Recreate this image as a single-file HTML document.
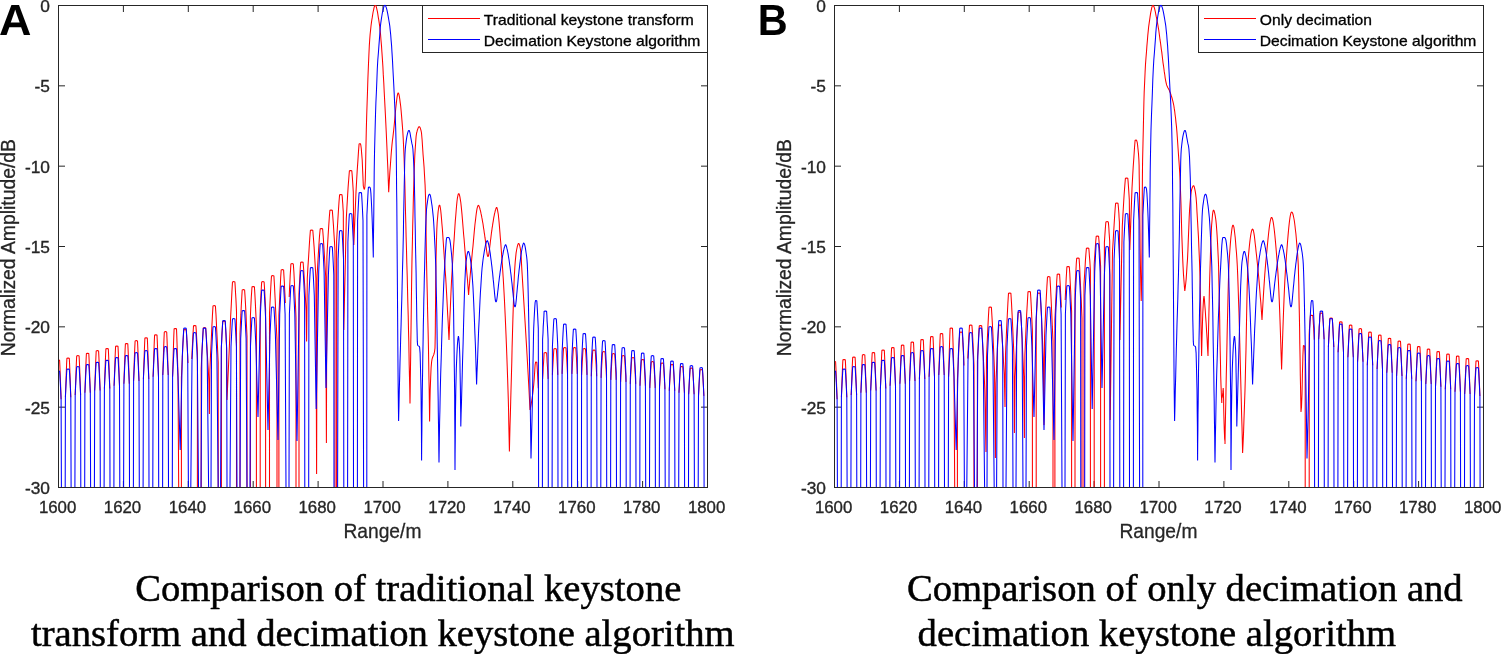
<!DOCTYPE html>
<html lang="en">
<head>
<meta charset="utf-8">
<title>Comparison of keystone algorithms</title>
<style>
html,body{margin:0;padding:0;background:#fff;}
body{width:1501px;height:654px;overflow:hidden;}
svg{display:block;}
.t{font-family:"Liberation Sans",sans-serif;font-size:17.4px;fill:#262626;stroke:#262626;stroke-width:0.35px;}
.l{font-family:"Liberation Sans",sans-serif;font-size:20.9px;fill:#262626;stroke:#262626;stroke-width:0.3px;}
.lg{font-family:"Liberation Sans",sans-serif;font-size:14.4px;fill:#000;stroke:#000;stroke-width:0.3px;}
.cap{font-family:"Liberation Serif",serif;font-size:38.7px;fill:#000;stroke:#000;stroke-width:0.5px;}
.pl{font-family:"Liberation Sans",sans-serif;font-size:43.6px;font-weight:bold;fill:#000;text-rendering:geometricPrecision;}
.ax{stroke:#262626;stroke-width:1;fill:none;shape-rendering:crispEdges;}
.r{stroke:#ff0000;fill:none;stroke-width:1.05;stroke-linejoin:bevel;}
.b{stroke:#0000ff;fill:none;stroke-width:1.05;stroke-linejoin:bevel;}
</style>
</head>
<body>
<svg width="1501" height="654" viewBox="0 0 1501 654">
<rect x="0" y="0" width="1501" height="654" fill="#fff"/>
<g id="plotA">
<clipPath id="clip0"><rect x="59.0" y="4.5" width="648.0" height="482.5"/></clipPath>
<rect class="ax" x="58.5" y="5.5" width="649.0" height="482.0"/>
<path d="M123.40 487.5v-6.5M123.40 5.5v6.5M188.30 487.5v-6.5M188.30 5.5v6.5M253.20 487.5v-6.5M253.20 5.5v6.5M318.10 487.5v-6.5M318.10 5.5v6.5M383.00 487.5v-6.5M383.00 5.5v6.5M447.90 487.5v-6.5M447.90 5.5v6.5M512.80 487.5v-6.5M512.80 5.5v6.5M577.70 487.5v-6.5M577.70 5.5v6.5M642.60 487.5v-6.5M642.60 5.5v6.5M58.5 85.83h6.5M707.5 85.83h-6.5M58.5 166.17h6.5M707.5 166.17h-6.5M58.5 246.50h6.5M707.5 246.50h-6.5M58.5 326.83h6.5M707.5 326.83h-6.5M58.5 407.17h6.5M707.5 407.17h-6.5" stroke="#262626" stroke-width="1" fill="none"/>
<g clip-path="url(#clip0)">
<path class="r" d="M55.7 399.3L56.0 390.5L56.3 382.0L56.6 373.9L56.9 366.4L57.2 360.3L58.4 360.0L59.6 360.3L59.9 366.4L60.2 373.9L60.5 382.0L60.8 390.5L61.1 399.3M65.4 397.3L65.7 388.5L66.0 380.0L66.3 371.9L66.6 364.4L66.9 358.3L68.1 358.0L69.3 358.3L69.6 364.4L69.9 371.9L70.2 380.0L70.5 388.5L70.8 397.3M75.2 394.9L75.5 386.1L75.8 377.6L76.1 369.5L76.4 362.0L76.7 355.9L77.9 355.6L79.1 355.9L79.4 362.0L79.7 369.5L80.0 377.6L80.3 386.1L80.6 394.9M84.9 392.7L85.2 383.8L85.5 375.3L85.8 367.2L86.1 359.7L86.4 353.5L87.6 353.2L88.8 353.5L89.1 359.7L89.4 367.2L89.7 375.3L90.0 383.8L90.3 392.7M94.7 390.5L95.0 381.5L95.3 372.9L95.6 364.7L95.9 357.1L96.2 350.9L97.4 350.6L98.6 350.9L98.9 357.1L99.2 364.7L99.5 372.9L99.8 381.5L100.1 390.5M104.4 388.5L104.7 379.5L105.0 370.8L105.3 362.6L105.6 355.0L105.9 348.7L107.1 348.4L108.3 348.7L108.6 355.0L108.9 362.6L109.2 370.8L109.5 379.5L109.8 388.5M114.1 385.7L114.4 376.8L114.7 368.2L115.0 360.0L115.3 352.5L115.6 346.3L116.8 346.0L118.0 346.3L118.3 352.5L118.6 360.0L118.9 368.2L119.2 376.8L119.5 385.7M123.9 383.7L124.2 374.6L124.5 365.9L124.8 357.6L125.1 350.0L125.4 343.7L126.6 343.4L127.8 343.7L128.1 350.0L128.4 357.6L128.7 365.9L129.0 374.6L129.3 383.7M133.6 380.9L133.9 371.8L134.2 363.1L134.5 354.8L134.8 347.2L135.1 340.9L136.3 340.6L137.5 340.9L137.8 347.2L138.1 354.8L138.4 363.1L138.7 371.8L139.0 380.9M143.4 378.9L143.7 369.7L144.0 360.8L144.3 352.3L144.6 344.5L144.9 338.1L146.1 337.8L147.3 338.1L147.6 344.5L147.9 352.3L148.2 360.8L148.5 369.7L148.8 378.9M153.1 376.7L153.4 367.3L153.7 358.2L154.0 349.6L154.3 341.6L154.6 335.1L155.8 334.8L157.0 335.1L157.3 341.6L157.6 349.6L157.9 358.2L158.2 367.3L158.5 376.7M162.8 374.9L163.1 365.2L163.4 355.8L163.7 346.9L164.0 338.7L164.3 331.9L165.5 331.6L166.7 331.9L167.0 338.7L167.3 346.9L167.6 355.8L167.9 365.2L168.2 374.9M172.6 376.7L172.9 365.8L173.2 355.4L173.5 345.4L173.8 336.2L174.1 328.7L175.3 328.4L176.5 328.7L176.8 336.2L177.1 345.4L177.4 355.4L177.7 365.8L178.0 376.7L178.7 487.5L178.7 530.0L181.4 530.0L181.4 487.5L181.4 377.6L181.9 366.8L182.4 356.4L182.8 346.5L183.3 337.3L183.8 329.8L185.0 329.5L186.2 329.8L186.6 335.0L186.9 341.4L187.3 348.2L187.6 355.5L188.0 363.0M191.8 358.9L192.1 351.4L192.5 344.1L192.8 337.3L193.2 330.9L193.5 325.7L194.7 325.4L195.9 325.7L196.2 329.9L196.5 335.0L196.8 340.6L197.1 346.4L197.4 352.5L197.4 487.5L197.4 530.0L201.2 530.0L201.2 487.5L201.2 368.5L201.6 359.3L202.0 350.4L202.5 342.0L202.9 334.3L203.3 327.9L204.5 327.6L205.7 327.9L206.3 336.0L206.9 346.0L207.5 356.7L208.2 368.0L208.8 379.7L209.4 414.0L209.9 369.9L210.5 355.4L211.2 341.5L211.8 328.2L212.4 316.0L213.0 305.9L214.2 305.6L215.4 305.9L216.0 314.8L216.5 325.6L217.1 337.2L217.6 349.5L218.2 362.3L218.2 487.5L218.2 530.0L221.4 530.0L221.4 487.5L221.4 346.2L221.7 340.5L221.9 335.1L222.2 330.0L222.5 325.2L222.8 321.3L224.0 321.0L225.2 321.3L225.4 325.1L225.7 329.8L226.0 334.8L226.2 340.1L226.5 345.6L227.0 400.0L229.4 345.9L230.0 331.4L230.6 317.5L231.3 304.2L231.9 292.0L232.5 281.9L233.7 281.6L234.9 281.9L235.2 286.6L235.5 292.3L235.9 298.5L236.2 305.0L236.5 311.8L236.5 487.5L236.5 530.0L240.0 530.0L240.0 487.5L240.0 334.0L240.4 324.0L240.9 314.4L241.3 305.3L241.8 296.8L242.2 289.9L243.4 289.6L244.6 289.9L245.1 297.2L245.6 306.2L246.1 315.9L246.5 326.1L247.0 336.6L247.0 487.5L247.0 530.0L250.4 530.0L250.4 487.5L250.4 316.2L250.7 309.5L251.0 303.1L251.3 297.0L251.7 291.3L252.0 286.7L253.2 286.4L254.4 286.7L254.8 292.8L255.2 300.3L255.6 308.4L256.0 317.0L256.4 325.8L256.4 487.5L256.4 530.0L260.2 530.0L260.2 487.5L260.2 310.1L260.5 303.7L260.8 297.6L261.1 291.7L261.4 286.3L261.7 281.9L262.9 281.6L264.1 281.9L264.4 286.2L264.7 291.4L265.0 297.1L265.3 303.1L265.6 309.3L265.6 487.5L265.6 530.0L269.5 530.0L269.5 487.5L269.5 313.6L269.9 305.1L270.3 296.9L270.7 289.1L271.1 281.8L271.5 275.9L272.7 275.6L273.9 275.9L274.5 286.0L275.1 298.2L275.7 311.5L276.3 325.4L277.0 339.9L277.0 487.5L277.0 530.0L278.9 530.0L278.9 487.5L278.9 315.2L279.4 305.0L279.8 295.1L280.3 285.7L280.7 277.0L281.2 269.9L282.4 269.6L283.6 269.9L283.9 275.1L284.3 281.5L284.6 288.3L285.0 295.6L285.3 303.1M289.2 297.1L289.5 289.6L289.9 282.3L290.2 275.5L290.6 269.1L290.9 263.9L292.1 263.6L293.3 263.9L293.9 272.3L294.4 282.6L294.9 293.8L295.5 305.5L296.0 317.7L296.0 487.5L296.0 530.0L299.0 530.0L299.0 487.5L299.0 293.8L299.3 286.7L299.7 279.8L300.0 273.3L300.3 267.3L300.7 262.3L301.9 262.0L303.1 262.3L303.7 269.8L304.3 279.0L304.9 288.8L305.5 299.3L306.1 310.1L306.6 341.6L307.3 278.3L307.9 267.4L308.6 257.0L309.2 247.0L309.8 237.8L310.4 230.3L311.6 230.0L312.8 230.3L313.4 237.8L314.1 247.0L314.7 257.0L315.3 267.4L315.9 278.3L316.6 474.0L317.1 275.9L317.7 265.2L318.3 254.9L318.9 245.1L319.5 236.1L320.2 228.7L321.4 228.4L322.6 228.7L323.2 236.2L323.8 245.4L324.4 255.4L325.0 265.8L325.7 276.7L326.4 443.0L326.9 256.4L327.5 246.0L328.1 235.9L328.7 226.4L329.3 217.5L329.9 210.3L331.1 210.0L332.3 210.3L332.8 216.8L333.4 224.6L333.9 233.1L334.5 242.1L335.0 251.4L335.0 487.5L335.0 530.0L336.6 530.0L336.6 487.5L336.6 241.5L337.2 230.9L337.8 220.7L338.4 211.0L339.0 202.0L339.6 194.7L340.8 194.4L342.0 194.7L342.3 197.4L342.5 200.7L342.8 204.3L343.0 208.0L343.3 211.9L343.8 330.0L346.3 218.7L346.9 207.8L347.5 197.4L348.1 187.4L348.8 178.2L349.4 170.7L350.6 170.4L351.8 170.7L352.1 174.0L352.4 178.1L352.7 182.5L353.0 187.2L353.3 192.0L353.8 245.0L356.0 191.9L356.6 181.0L357.2 170.6L357.9 160.6L358.5 151.4L359.1 143.9L360.3 143.6L360.8 145.0L361.3 148.7L361.7 153.9L362.2 160.0L362.8 174.0L363.3 186.0L363.9 188.5L364.4 189.5L364.9 186.8L365.3 180.0L365.6 166.8L365.9 149.0L366.3 130.0L366.7 115.6L367.1 103.2L367.5 91.7L367.9 78.6L368.4 65.9L368.9 54.6L369.3 45.9L369.7 39.8L370.1 34.5L370.6 29.9L371.0 26.0L371.4 22.9L371.8 20.0L372.3 17.2L372.7 14.5L373.1 12.0L373.6 9.8L374.0 7.9L374.4 6.5L374.9 5.6L375.3 5.3L375.7 5.6L376.2 6.6L376.6 8.0L377.0 9.9L377.5 12.1L377.9 14.6L378.3 17.3L378.8 20.1L379.2 22.9L379.7 26.3L380.1 30.4L380.6 35.1L381.0 40.3L381.5 45.9L381.9 52.0L382.4 59.1L382.9 66.8L383.3 74.9L383.8 83.3L384.2 91.7L384.6 99.2L385.0 106.9L385.4 114.8L385.8 122.9L386.2 131.3L386.6 140.0L387.0 149.0L387.4 159.0L387.9 169.7L388.3 180.8L388.7 192.2L389.1 184.8L389.5 177.8L389.9 171.2L390.4 164.9L390.8 159.2L391.2 153.8L391.6 149.0L392.0 144.6L392.4 140.7L392.9 137.1L393.3 133.6L393.7 130.0L394.1 126.2L394.5 122.0L394.9 117.6L395.3 113.1L395.7 108.7L396.2 104.5L396.6 100.8L397.0 97.6L397.4 95.1L397.8 93.5L398.2 92.9L398.6 93.3L399.0 94.6L399.4 96.6L399.8 99.3L400.2 102.6L400.7 106.3L401.1 110.5L401.5 115.1L401.9 119.9L402.3 124.9L402.7 130.0L403.2 138.1L403.7 149.0L404.1 158.2L404.4 169.1L404.8 181.3L405.1 194.5L405.4 208.3L405.8 222.4L406.1 236.4L406.5 250.0L406.8 262.7L407.2 275.5L407.5 288.5L407.8 301.8L408.2 315.6L408.5 330.0L408.8 341.3L409.0 353.0L409.2 365.1L409.5 377.6L409.8 390.3L410.0 403.4L410.2 391.0L410.3 378.7L410.5 366.4L410.7 354.2L410.8 342.1L411.0 330.0L411.2 315.0L411.4 299.3L411.6 284.2L411.8 270.4L412.0 259.0L412.4 241.9L412.7 225.9L413.1 210.9L413.4 197.1L413.8 184.6L414.1 173.5L414.5 163.7L414.8 155.6L415.2 149.0L415.7 141.9L416.1 136.4L416.6 133.0L417.1 131.2L417.5 129.7L418.0 128.4L418.4 127.4L418.9 126.8L419.3 126.6L419.7 126.9L420.2 127.8L420.6 129.1L421.1 130.9L421.5 133.0L422.1 139.7L422.7 149.0L423.1 155.0L423.6 161.1L424.1 167.6L424.5 175.0L425.1 185.2L425.6 200.0L425.8 208.6L426.0 220.8L426.1 234.7L426.3 248.4L426.5 260.0L426.8 274.7L427.1 287.6L427.4 299.5L427.6 311.0L427.9 322.8L428.2 335.6L428.5 350.0L428.7 362.5L428.9 376.2L429.2 390.7L429.4 405.9L429.6 421.6L429.9 403.4L430.2 390.0L430.7 377.1L431.1 367.6L431.6 362.0L432.0 359.4L432.5 357.7L432.9 356.6L433.3 355.8L433.7 354.9L434.1 353.5L434.6 351.3L435.0 348.0L435.1 343.0L435.3 331.9L435.4 317.0L435.6 300.3L435.7 283.8L435.9 269.7L436.0 260.0L436.4 242.9L436.8 229.9L437.2 222.0L437.7 216.5L438.1 211.8L438.6 208.2L439.0 205.8L439.5 205.0L439.9 205.6L440.3 207.5L440.7 210.3L441.1 214.1L441.5 218.6L441.9 223.7L442.4 229.2L442.8 235.1L443.2 241.2L443.6 247.3L444.0 253.3L444.4 259.0L444.8 264.9L445.2 271.1L445.7 277.6L446.1 284.5L446.5 291.7L446.9 299.1L447.3 306.8L447.7 314.8L448.2 323.0L448.6 331.4L449.0 340.0L449.4 329.4L449.8 319.0L450.3 309.0L450.7 299.3L451.1 290.0L451.5 281.3L452.0 273.2L452.4 265.7L452.8 259.0L453.2 252.6L453.6 246.1L454.1 239.6L454.5 233.2L454.9 226.9L455.3 220.9L455.8 215.2L456.2 210.0L456.6 205.4L457.0 201.3L457.4 198.1L457.9 195.6L458.3 194.0L458.7 193.5L459.1 193.9L459.5 195.1L459.9 196.9L460.3 199.4L460.8 202.5L461.2 206.1L461.6 210.1L462.0 214.4L462.4 219.1L462.8 224.0L463.2 229.0L463.6 234.2L464.1 239.3L464.5 244.5L464.9 249.5L465.3 254.4L465.7 259.0L466.1 263.6L466.5 268.5L466.9 273.5L467.4 278.7L467.8 284.1L468.2 289.5L468.6 295.0L469.0 289.4L469.5 283.9L469.9 278.5L470.4 273.2L470.8 268.2L471.3 263.5L471.7 259.0L472.1 254.8L472.5 250.5L473.0 246.0L473.4 241.4L473.8 236.9L474.2 232.4L474.6 228.1L475.0 224.0L475.5 220.1L475.9 216.5L476.3 213.3L476.7 210.6L477.1 208.3L477.6 206.6L478.0 205.6L478.4 205.2L478.7 205.6L479.1 206.3L479.4 207.2L479.8 208.3L480.1 209.5L480.5 210.9L480.8 212.4L481.1 213.9L481.5 215.6L481.8 217.4L482.2 219.3L482.5 221.3L482.9 223.3L483.2 225.4L483.5 227.6L483.9 229.9L484.2 232.3L484.6 234.7L484.9 237.2L485.3 239.7L485.6 242.4L485.9 245.0L486.3 247.8L486.6 250.6L487.0 253.2L487.3 255.1L487.7 256.2L488.0 256.6L488.0 256.6L488.3 256.2L488.7 255.0L489.0 252.9L489.4 250.1L489.7 247.1L490.1 244.2L490.4 241.3L490.8 238.5L491.1 235.8L491.4 233.2L491.8 230.7L492.1 228.2L492.5 225.9L492.8 223.6L493.2 221.4L493.5 219.4L493.8 217.4L494.2 215.6L494.5 213.9L494.9 212.4L495.2 211.0L495.6 209.7L495.9 208.7L496.3 207.8L496.6 207.4L497.0 207.9L497.4 209.3L497.8 211.6L498.3 214.5L498.7 218.2L499.1 222.4L499.5 227.1L499.9 232.1L500.3 237.5L500.8 243.0L501.2 248.7L501.6 254.4L502.0 260.0L502.4 265.5L502.8 271.5L503.2 277.8L503.6 284.5L504.0 291.7L504.4 299.3L504.8 307.4L505.2 316.0L505.6 325.0L506.0 334.5L506.4 344.5L506.8 355.1L507.2 366.2L507.6 377.8L508.0 390.0L508.3 399.8L508.6 411.4L508.8 424.3L509.1 437.8L509.4 451.4L509.7 438.6L510.0 426.0L510.4 413.6L510.7 401.6L511.0 390.0L511.4 376.2L511.8 361.8L512.1 347.3L512.5 332.9L512.9 319.0L513.3 305.9L513.7 293.9L514.0 283.4L514.4 274.6L514.8 268.0L515.2 262.0L515.7 256.9L516.1 252.9L516.6 250.0L517.0 248.0L517.4 246.2L517.8 244.8L518.2 243.8L518.6 243.4L519.0 243.7L519.4 244.6L519.8 246.0L520.2 247.8L520.6 250.0L521.2 257.9L521.8 269.0L522.2 275.5L522.6 281.9L523.0 288.3L523.4 294.8L523.8 301.2L524.2 307.7L524.6 314.2L525.0 320.7L525.4 327.3L525.8 333.9L526.2 340.6L526.6 347.3L527.0 354.2L527.4 361.1L527.8 368.2L528.2 375.3L528.6 382.6L529.0 390.0L529.5 399.8L530.0 410.0L530.4 408.4L530.8 406.5L531.2 404.2L531.6 401.5L532.1 398.6L532.5 395.5L532.9 392.1L533.3 388.6L533.7 385.0L534.2 379.0L534.7 371.4L535.1 364.8L535.6 362.0L536.8 362.3L537.1 366.4L537.4 371.4L537.7 376.7L538.0 382.4L538.3 388.3M542.6 378.9L543.0 373.0L543.2 367.3L543.6 362.0L543.9 357.0L544.1 352.9L545.4 352.6L546.6 352.9L546.9 357.0L547.1 362.0L547.5 367.3L547.8 373.0L548.1 378.9M552.4 374.9L552.7 369.0L553.0 363.3L553.3 358.0L553.6 353.0L553.9 348.9L555.1 348.6L556.3 348.9L556.6 353.0L556.9 358.0L557.2 363.3L557.5 369.0L557.8 374.9M562.1 373.9L562.4 368.0L562.7 362.3L563.0 357.0L563.3 352.0L563.6 347.9L564.8 347.6L566.0 347.9L566.3 352.0L566.6 357.0L566.9 362.3L567.2 368.0L567.5 373.9M571.9 373.9L572.2 368.0L572.5 362.3L572.8 357.0L573.1 352.0L573.4 347.9L574.6 347.6L575.8 347.9L576.1 352.0L576.4 357.0L576.7 362.3L577.0 368.0L577.3 373.9M581.6 374.9L581.9 369.0L582.2 363.3L582.5 358.0L582.8 353.0L583.1 348.9L584.3 348.6L585.5 348.9L585.8 353.0L586.1 358.0L586.4 363.3L586.7 369.0L587.0 374.9M591.3 376.3L591.6 370.4L591.9 364.7L592.2 359.4L592.5 354.4L592.8 350.3L594.0 350.0L595.2 350.3L595.5 354.4L595.8 359.4L596.1 364.7L596.4 370.4L596.7 376.3M601.1 377.9L601.4 372.0L601.7 366.3L602.0 361.0L602.3 356.0L602.6 351.9L603.8 351.6L605.0 351.9L605.3 356.0L605.6 361.0L605.9 366.3L606.2 372.0L606.5 377.9M610.8 379.9L611.1 374.0L611.4 368.3L611.7 363.0L612.0 358.0L612.3 353.9L613.5 353.6L614.7 353.9L615.0 358.0L615.3 363.0L615.6 368.3L615.9 374.0L616.2 379.9M620.6 381.9L620.9 376.0L621.2 370.3L621.5 365.0L621.8 360.0L622.1 355.9L623.3 355.6L624.5 355.9L624.8 360.0L625.1 365.0L625.4 370.3L625.7 376.0L626.0 381.9M630.3 383.9L630.6 378.0L630.9 372.3L631.2 367.0L631.5 362.0L631.8 357.9L633.0 357.6L634.2 357.9L634.5 362.0L634.8 367.0L635.1 372.3L635.4 378.0L635.7 383.9M640.0 385.7L640.3 379.8L640.6 374.1L640.9 368.8L641.2 363.8L641.5 359.7L642.7 359.4L643.9 359.7L644.2 363.8L644.5 368.8L644.8 374.1L645.1 379.8L645.4 385.7M649.8 387.9L650.1 382.0L650.4 376.3L650.7 371.0L651.0 366.0L651.3 361.9L652.5 361.6L653.7 361.9L654.0 366.0L654.3 371.0L654.6 376.3L654.9 382.0L655.2 387.9M659.5 389.3L659.8 383.4L660.1 377.7L660.4 372.4L660.7 367.4L661.0 363.3L662.2 363.0L663.4 363.3L663.7 367.4L664.0 372.4L664.3 377.7L664.6 383.4L664.9 389.3M669.3 390.7L669.6 384.8L669.9 379.1L670.2 373.8L670.5 368.8L670.8 364.7L672.0 364.4L673.2 364.7L673.5 368.8L673.8 373.8L674.1 379.1L674.4 384.8L674.7 390.7M679.0 392.7L679.3 386.8L679.6 381.1L679.9 375.8L680.2 370.8L680.5 366.7L681.7 366.4L682.9 366.7L683.2 370.8L683.5 375.8L683.8 381.1L684.1 386.8L684.4 392.7M688.7 394.3L689.0 388.4L689.3 382.7L689.6 377.4L689.9 372.4L690.2 368.3L691.4 368.0L692.6 368.3L692.9 372.4L693.2 377.4L693.5 382.7L693.8 388.4L694.1 394.3M698.5 395.9L698.8 390.0L699.1 384.3L699.4 379.0L699.7 374.0L700.0 369.9L701.2 369.6L702.4 369.9L702.7 374.0L703.0 379.0L703.3 384.3L703.6 390.0L703.9 395.9"/>
<path class="b" d="M55.4 530.0L55.4 487.5L55.7 399.3L56.0 393.0L56.3 386.9L56.6 381.1L56.9 375.7L57.2 371.3L58.4 371.0L59.6 371.3L59.9 375.7L60.2 381.1L60.5 386.9L60.8 393.0L61.1 399.3L61.4 487.5L61.4 530.0L65.2 530.0L65.2 487.5L65.4 397.3L65.7 391.0L66.0 384.9L66.3 379.1L66.6 373.7L66.9 369.3L68.1 369.0L69.3 369.3L69.6 373.7L69.9 379.1L70.2 384.9L70.5 391.0L70.8 397.3L71.1 487.5L71.1 530.0L74.9 530.0L74.9 487.5L75.2 394.9L75.5 388.6L75.8 382.5L76.1 376.7L76.4 371.3L76.7 366.9L77.9 366.6L79.1 366.9L79.4 371.3L79.7 376.7L80.0 382.5L80.3 388.6L80.6 394.9L80.8 487.5L80.8 530.0L84.7 530.0L84.7 487.5L84.9 392.7L85.2 386.4L85.5 380.3L85.8 374.5L86.1 369.1L86.4 364.7L87.6 364.4L88.8 364.7L89.1 369.1L89.4 374.5L89.7 380.3L90.0 386.4L90.3 392.7L90.6 487.5L90.6 530.0L94.4 530.0L94.4 487.5L94.7 390.5L95.0 384.2L95.3 378.1L95.6 372.3L95.9 366.9L96.2 362.5L97.4 362.2L98.6 362.5L98.9 366.9L99.2 372.3L99.5 378.1L99.8 384.2L100.1 390.5L100.3 487.5L100.3 530.0L104.1 530.0L104.1 487.5L104.4 388.5L104.7 382.2L105.0 376.1L105.3 370.3L105.6 364.9L105.9 360.5L107.1 360.2L108.3 360.5L108.6 364.9L108.9 370.3L109.2 376.1L109.5 382.2L109.8 388.5L110.0 487.5L110.0 530.0L113.9 530.0L113.9 487.5L114.1 385.7L114.4 379.4L114.7 373.3L115.0 367.5L115.3 362.1L115.6 357.7L116.8 357.4L118.0 357.7L118.3 362.1L118.6 367.5L118.9 373.3L119.2 379.4L119.5 385.7L119.8 487.5L119.8 530.0L123.6 530.0L123.6 487.5L123.9 383.7L124.2 377.4L124.5 371.3L124.8 365.5L125.1 360.1L125.4 355.7L126.6 355.4L127.8 355.7L128.1 360.1L128.4 365.5L128.7 371.3L129.0 377.4L129.3 383.7L129.5 487.5L129.5 530.0L133.4 530.0L133.4 487.5L133.6 380.9L133.9 374.6L134.2 368.5L134.5 362.7L134.8 357.3L135.1 352.9L136.3 352.6L137.5 352.9L137.8 357.3L138.1 362.7L138.4 368.5L138.7 374.6L139.0 380.9L139.3 487.5L139.3 530.0L143.1 530.0L143.1 487.5L143.4 378.9L143.7 372.6L144.0 366.5L144.3 360.7L144.6 355.3L144.9 350.9L146.1 350.6L147.3 350.9L147.6 355.3L147.9 360.7L148.2 366.5L148.5 372.6L148.8 378.9L149.0 487.5L149.0 530.0L152.8 530.0L152.8 487.5L153.1 376.7L153.4 370.4L153.7 364.3L154.0 358.5L154.3 353.1L154.6 348.7L155.8 348.4L157.0 348.7L157.3 353.1L157.6 358.5L157.9 364.3L158.2 370.4L158.5 376.7L158.7 487.5L158.7 530.0L162.6 530.0L162.6 487.5L162.8 374.9L163.1 368.6L163.4 362.5L163.7 356.7L164.0 351.3L164.3 346.9L165.5 346.6L166.7 346.9L167.0 351.3L167.3 356.7L167.6 362.5L167.9 368.6L168.2 374.9L168.5 487.5L168.5 530.0L172.3 530.0L172.3 487.5L172.6 376.7L172.9 370.4L173.2 364.3L173.5 358.5L173.8 353.1L174.1 348.7L175.3 348.4L176.5 348.7L176.8 353.1L177.1 358.5L177.4 364.3L177.7 370.4L178.0 376.7L180.2 450.0L182.3 356.3L182.6 350.0L182.9 343.9L183.2 338.1L183.5 332.7L183.8 328.3L185.0 328.0L186.2 328.3L186.5 332.7L186.8 338.1L187.1 343.9L187.4 350.0L187.7 356.3L188.4 487.5L188.4 530.0L190.8 530.0L190.8 487.5L192.0 360.9L192.3 354.6L192.6 348.5L192.9 342.7L193.2 337.3L193.5 332.9L194.7 332.6L195.9 332.9L196.2 337.3L196.5 342.7L196.8 348.5L197.1 354.6L197.4 360.9L198.5 487.5L198.5 530.0L201.0 530.0L201.0 487.5L201.8 356.3L202.1 350.0L202.4 343.9L202.7 338.1L203.0 332.7L203.3 328.3L204.5 328.0L205.7 328.3L206.0 332.7L206.3 338.1L206.6 343.9L206.9 350.0L207.2 356.3L208.6 487.5L208.6 530.0L211.0 530.0L211.0 487.5L211.5 354.9L211.8 348.6L212.1 342.5L212.4 336.7L212.7 331.3L213.0 326.9L214.2 326.6L215.4 326.9L215.7 331.3L216.0 336.7L216.3 342.5L216.6 348.6L216.9 354.9L218.2 487.5L218.2 530.0L220.6 530.0L220.6 487.5L221.3 348.7L221.6 342.4L221.9 336.3L222.2 330.5L222.5 325.1L222.8 320.7L224.0 320.4L225.2 320.7L225.5 325.1L225.8 330.5L226.1 336.3L226.4 342.4L226.7 348.7L227.0 487.5L227.0 530.0L230.0 530.0L230.0 487.5L231.0 346.9L231.3 340.6L231.6 334.5L231.9 328.7L232.2 323.3L232.5 318.9L233.7 318.6L234.9 318.9L235.2 323.3L235.5 328.7L235.8 334.5L236.1 340.6L236.4 346.9L237.0 487.5L237.0 530.0L240.0 530.0L240.0 487.5L240.7 338.7L241.0 332.4L241.3 326.3L241.6 320.5L241.9 315.1L242.2 310.7L243.4 310.4L244.6 310.7L244.9 315.1L245.2 320.5L245.5 326.3L245.8 332.4L246.1 338.7L247.0 487.5L247.0 530.0L250.0 530.0L250.0 487.5L250.5 345.9L250.8 339.6L251.1 333.5L251.4 327.7L251.7 322.3L252.0 317.9L253.2 317.6L254.4 317.9L254.7 322.3L255.0 327.7L255.3 333.5L255.6 339.6L255.9 345.9L258.0 417.0L260.2 318.3L260.5 312.0L260.8 305.9L261.1 300.1L261.4 294.7L261.7 290.3L262.9 290.0L264.1 290.3L264.4 294.7L264.7 300.1L265.0 305.9L265.3 312.0L265.6 318.3L268.0 430.0L270.0 335.3L270.3 329.0L270.6 322.9L270.9 317.1L271.2 311.7L271.5 307.3L272.7 307.0L273.9 307.3L274.2 311.7L274.5 317.1L274.8 322.9L275.1 329.0L275.4 335.3L278.0 440.0L279.7 314.3L280.0 308.0L280.3 301.9L280.6 296.1L280.9 290.7L281.2 286.3L282.4 286.0L283.6 286.3L283.9 290.7L284.2 296.1L284.5 301.9L284.8 308.0L285.1 314.3L286.0 487.5L286.0 530.0L289.0 530.0L289.0 487.5L289.4 313.9L289.7 307.6L290.0 301.5L290.3 295.7L290.6 290.3L290.9 285.9L292.1 285.6L293.3 285.9L293.6 290.3L293.9 295.7L294.2 301.5L294.5 307.6L294.8 313.9L297.0 441.0L299.2 298.9L299.5 292.6L299.8 286.5L300.1 280.7L300.4 275.3L300.7 270.9L301.9 270.6L303.1 270.9L303.4 275.3L303.7 280.7L304.0 286.5L304.3 292.6L304.6 298.9L304.8 487.5L304.8 530.0L308.7 530.0L308.7 487.5L308.9 295.8L309.2 289.5L309.5 283.4L309.8 277.6L310.1 272.2L310.4 267.8L311.6 267.5L312.8 267.8L313.1 272.2L313.4 277.6L313.7 283.4L314.0 289.5L314.3 295.8L316.2 409.0L318.7 271.9L319.0 265.6L319.3 259.5L319.6 253.7L319.9 248.3L320.2 243.9L321.4 243.6L322.6 243.9L322.9 248.3L323.2 253.7L323.5 259.5L323.8 265.6L324.1 271.9L326.0 388.0L328.4 274.9L328.7 268.6L329.0 262.5L329.3 256.7L329.6 251.3L329.9 246.9L331.1 246.6L332.3 246.9L332.6 251.3L332.9 256.7L333.2 262.5L333.5 268.6L333.8 274.9L334.0 487.5L334.0 530.0L337.6 530.0L337.6 487.5L338.1 258.9L338.4 252.6L338.7 246.5L339.0 240.7L339.3 235.3L339.6 230.9L340.8 230.6L342.0 230.9L342.3 235.3L342.6 240.7L342.9 246.5L343.2 252.6L343.5 258.9L343.8 487.5L343.8 530.0L347.6 530.0L347.6 487.5L347.9 241.9L348.2 235.6L348.5 229.5L348.8 223.7L349.1 218.3L349.4 213.9L350.6 213.6L351.8 213.9L352.1 218.3L352.4 223.7L352.7 229.5L353.0 235.6L353.3 241.9L353.5 487.5L353.5 530.0L357.4 530.0L357.4 487.5L357.6 220.7L357.9 214.4L358.2 208.3L358.5 202.5L358.8 197.1L359.1 192.7L360.3 192.4L361.5 192.7L361.8 197.1L362.1 202.5L362.4 208.3L362.7 214.4L363.0 220.7L363.6 487.5L363.6 530.0L366.8 530.0L366.8 487.5L366.9 215.3L367.2 209.0L367.5 202.9L367.8 197.1L368.1 191.7L368.4 187.3L369.6 187.0L370.1 187.6L370.5 189.0L370.9 193.1L371.3 200.0L371.7 208.0L372.1 217.7L372.5 229.3L372.9 242.5L373.3 257.4L373.4 241.8L373.6 227.0L373.8 213.0L373.9 200.0L374.1 185.5L374.2 171.7L374.4 159.2L374.6 149.0L375.1 129.6L375.5 114.7L375.9 102.6L376.4 91.7L376.9 79.5L377.3 68.8L377.8 60.0L378.4 52.7L378.9 45.9L379.4 39.4L379.9 32.9L380.3 27.1L380.8 22.9L381.2 20.2L381.6 17.5L382.0 15.0L382.4 12.7L382.9 10.7L383.3 8.8L383.7 7.4L384.1 6.2L384.5 5.5L384.9 5.3L385.3 5.5L385.7 6.1L386.1 7.1L386.5 8.4L386.9 9.9L387.3 11.7L387.7 13.7L388.1 15.9L388.5 18.2L388.9 20.5L389.3 22.9L389.8 26.1L390.2 30.1L390.7 34.8L391.1 40.1L391.6 45.9L392.0 52.6L392.5 60.6L392.9 68.8L393.3 76.2L393.7 83.8L394.1 91.7L394.6 102.4L395.2 114.7L395.7 128.6L396.2 149.0L396.3 156.1L396.4 165.3L396.5 176.4L396.6 188.9L396.8 202.5L396.9 216.6L397.0 231.1L397.1 245.3L397.2 259.0L397.3 271.5L397.4 284.9L397.5 299.0L397.6 313.3L397.7 327.7L397.8 341.8L397.9 355.4L398.0 368.2L398.1 379.8L398.2 390.0L398.4 407.1L398.6 421.0L399.0 405.1L399.3 390.0L399.7 375.9L400.0 362.4L400.4 349.4L400.7 336.7L401.1 324.2L401.4 311.7L401.8 299.1L402.1 286.2L402.4 272.9L402.8 259.0L403.1 246.6L403.4 232.4L403.6 217.2L403.9 201.8L404.2 187.0L404.5 173.5L404.7 162.2L405.0 153.8L405.3 149.0L405.7 145.3L406.1 141.9L406.5 138.9L406.9 136.4L407.4 134.2L407.8 132.5L408.2 131.3L408.6 130.6L409.0 130.3L409.4 130.9L409.9 132.4L410.3 134.5L410.7 137.1L411.2 139.6L411.6 142.0L412.0 143.9L412.5 146.0L412.9 149.0L413.4 157.0L414.0 170.0L414.3 178.4L414.5 189.5L414.8 202.5L415.0 216.8L415.3 231.4L415.5 245.7L415.8 259.0L416.1 272.9L416.3 288.6L416.6 304.7L416.8 319.8L417.1 332.5L417.3 341.4L417.6 345.0L418.0 345.6L418.4 345.9L418.8 346.1L419.2 346.4L419.6 347.0L420.1 353.1L420.5 368.1L421.0 390.0L421.1 398.6L421.2 411.1L421.4 426.4L421.5 443.2L421.6 460.6L421.7 444.9L421.9 429.4L422.0 414.8L422.2 401.4L422.3 390.0L422.6 372.3L422.8 355.9L423.1 340.6L423.3 326.3L423.6 313.1L423.8 300.8L424.1 289.3L424.3 278.5L424.6 268.5L424.8 259.0L425.2 243.2L425.6 228.4L426.1 216.5L426.5 209.5L426.9 205.7L427.4 202.3L427.8 199.5L428.2 197.1L428.6 195.4L429.1 194.4L429.5 194.0L429.9 194.4L430.4 195.7L430.8 197.6L431.2 200.1L431.6 203.0L432.1 206.2L432.5 209.5L432.9 213.4L433.4 218.3L433.8 224.3L434.2 231.3L434.6 239.4L435.1 248.6L435.5 259.0L435.8 266.4L436.0 275.8L436.2 286.9L436.5 299.4L436.8 313.0L437.0 327.6L437.2 342.9L437.5 358.5L437.8 374.3L438.0 390.0L438.2 400.8L438.3 412.2L438.5 424.2L438.7 436.7L438.8 449.4L439.0 462.4L439.2 448.9L439.4 435.5L439.6 422.6L439.9 410.4L440.1 399.4L440.3 390.0L440.7 373.6L441.2 358.2L441.6 343.8L442.0 330.3L442.4 317.7L442.9 305.9L443.3 295.1L443.7 285.1L444.1 275.9L444.6 267.6L445.0 260.0L445.4 252.6L445.9 245.5L446.3 240.1L446.7 237.8L447.2 237.5L447.8 237.4L448.4 237.5L449.0 237.8L449.4 238.5L449.9 240.2L450.3 242.6L450.7 245.9L451.1 250.0L451.6 254.7L452.0 260.0L452.3 264.2L452.5 270.1L452.8 277.7L453.0 287.3L453.3 298.8L453.6 312.4L453.8 328.2L454.1 346.4L454.3 366.9L454.6 390.0L454.7 398.2L454.7 409.8L454.8 423.7L454.9 439.0L454.9 454.8L455.0 470.0L455.1 453.5L455.3 437.3L455.4 422.3L455.5 408.9L455.7 398.0L455.8 390.0L456.3 368.8L456.9 354.2L457.4 345.0L457.9 338.9L458.4 336.0L458.8 337.9L459.2 342.9L459.6 350.0L459.9 358.8L460.1 372.9L460.4 390.0L460.5 400.3L460.7 412.7L460.8 426.4L461.1 413.9L461.5 401.7L461.8 390.0L462.2 375.2L462.6 359.5L463.1 343.5L463.5 327.5L463.9 312.2L464.3 298.0L464.7 285.4L465.2 274.8L465.6 266.9L466.0 262.0L466.5 258.7L466.9 255.7L467.4 253.4L467.8 251.9L468.3 251.3L468.7 251.7L469.1 252.8L469.5 254.5L470.0 256.6L470.4 259.2L470.8 262.0L471.2 265.0L471.6 268.6L472.0 273.3L472.4 279.1L472.9 286.0L473.3 293.7L473.7 302.4L474.1 312.0L474.5 322.3L474.9 333.5L475.4 345.3L475.8 357.8L476.2 370.9L476.6 384.5L477.0 372.6L477.5 361.0L477.9 349.7L478.3 338.9L478.7 328.6L479.2 318.8L479.6 309.5L480.0 300.8L480.4 292.8L480.9 285.4L481.3 278.7L481.7 272.8L482.1 267.7L482.6 263.4L483.0 260.0L483.4 257.0L483.9 254.1L484.3 251.3L484.8 248.8L485.2 246.5L485.6 244.5L486.1 242.9L486.5 241.6L487.0 240.9L487.4 240.6L487.7 241.2L488.1 242.2L488.4 243.5L488.8 245.0L489.1 246.8L489.5 248.7L489.8 250.9L490.2 253.1L490.5 255.6L490.8 258.1L491.2 260.8L491.5 263.6L491.9 266.6L492.2 269.6L492.6 272.8L492.9 276.1L493.2 279.4L493.6 282.9L493.9 286.5L494.3 290.2L494.6 293.9L495.0 297.4L495.3 300.0L495.7 301.5L496.0 302.0L496.0 302.0L496.3 301.6L496.7 300.3L497.0 298.2L497.4 295.3L497.7 292.2L498.1 289.1L498.4 286.1L498.7 283.2L499.1 280.3L499.4 277.5L499.8 274.8L500.1 272.2L500.5 269.7L500.8 267.2L501.1 264.8L501.5 262.5L501.8 260.3L502.2 258.2L502.5 256.2L502.9 254.4L503.2 252.6L503.5 250.9L503.9 249.4L504.2 248.0L504.6 246.8L504.9 245.8L505.3 245.0L505.6 244.6L505.9 245.1L506.3 245.9L506.6 247.0L506.9 248.4L507.3 249.9L507.6 251.5L508.0 253.3L508.3 255.2L508.6 257.3L509.0 259.5L509.3 261.7L509.6 264.1L510.0 266.6L510.3 269.2L510.6 271.9L511.0 274.7L511.3 277.5L511.6 280.5L512.0 283.5L512.3 286.6L512.6 289.8L513.0 293.1L513.3 296.4L513.7 299.8L514.0 303.0L514.3 305.2L514.7 306.5L515.0 307.0L515.0 307.0L515.3 306.5L515.7 304.9L516.0 302.2L516.4 298.6L516.7 294.7L517.1 290.8L517.4 287.1L517.8 283.5L518.1 280.0L518.4 276.5L518.8 273.2L519.1 270.1L519.5 267.0L519.8 264.1L520.2 261.3L520.5 258.6L520.8 256.1L521.2 253.7L521.5 251.5L521.9 249.5L522.2 247.6L522.6 246.0L522.9 244.6L523.3 243.6L523.6 243.0L524.0 243.3L524.5 244.2L524.9 245.7L525.3 247.6L525.7 250.1L526.1 253.0L526.6 256.3L527.0 260.0L527.3 264.4L527.6 271.7L527.9 281.7L528.2 293.8L528.5 307.7L528.8 323.0L529.1 339.3L529.4 356.2L529.7 373.2L530.0 390.0L530.2 401.8L530.4 414.9L530.6 429.0L530.8 443.6L531.0 458.6L531.3 446.8L531.6 434.0L532.0 420.1L532.3 405.4L532.6 390.0L532.8 377.5L533.0 363.0L533.3 348.5L533.5 336.1L533.7 328.0L534.2 317.2L534.7 308.4L535.1 302.5L535.6 300.4L536.8 300.7L537.1 305.1L537.4 310.5L537.7 316.3L538.0 322.4L538.3 328.7L538.6 487.5L538.6 530.0L542.4 530.0L542.4 487.5L542.6 339.3L543.0 333.0L543.2 326.9L543.6 321.1L543.9 315.7L544.1 311.3L545.4 311.0L546.6 311.3L546.9 315.7L547.1 321.1L547.5 326.9L547.8 333.0L548.1 339.3L548.3 487.5L548.3 530.0L552.1 530.0L552.1 487.5L552.4 346.9L552.7 340.6L553.0 334.5L553.3 328.7L553.6 323.3L553.9 318.9L555.1 318.6L556.3 318.9L556.6 323.3L556.9 328.7L557.2 334.5L557.5 340.6L557.8 346.9L558.0 487.5L558.0 530.0L561.9 530.0L561.9 487.5L562.1 352.3L562.4 346.0L562.7 339.9L563.0 334.1L563.3 328.7L563.6 324.3L564.8 324.0L566.0 324.3L566.3 328.7L566.6 334.1L566.9 339.9L567.2 346.0L567.5 352.3L567.8 487.5L567.8 530.0L571.6 530.0L571.6 487.5L571.9 357.3L572.2 351.0L572.5 344.9L572.8 339.1L573.1 333.7L573.4 329.3L574.6 329.0L575.8 329.3L576.1 333.7L576.4 339.1L576.7 344.9L577.0 351.0L577.3 357.3L577.5 487.5L577.5 530.0L581.4 530.0L581.4 487.5L581.6 361.7L581.9 355.4L582.2 349.3L582.5 343.5L582.8 338.1L583.1 333.7L584.3 333.4L585.5 333.7L585.8 338.1L586.1 343.5L586.4 349.3L586.7 355.4L587.0 361.7L587.3 487.5L587.3 530.0L591.1 530.0L591.1 487.5L591.3 365.3L591.6 359.0L591.9 352.9L592.2 347.1L592.5 341.7L592.8 337.3L594.0 337.0L595.2 337.3L595.5 341.7L595.8 347.1L596.1 352.9L596.4 359.0L596.7 365.3L597.0 487.5L597.0 530.0L600.8 530.0L600.8 487.5L601.1 368.9L601.4 362.6L601.7 356.5L602.0 350.7L602.3 345.3L602.6 340.9L603.8 340.6L605.0 340.9L605.3 345.3L605.6 350.7L605.9 356.5L606.2 362.6L606.5 368.9L606.7 487.5L606.7 530.0L610.6 530.0L610.6 487.5L610.8 372.7L611.1 366.4L611.4 360.3L611.7 354.5L612.0 349.1L612.3 344.7L613.5 344.4L614.7 344.7L615.0 349.1L615.3 354.5L615.6 360.3L615.9 366.4L616.2 372.7L616.5 487.5L616.5 530.0L620.3 530.0L620.3 487.5L620.6 375.9L620.9 369.6L621.2 363.5L621.5 357.7L621.8 352.3L622.1 347.9L623.3 347.6L624.5 347.9L624.8 352.3L625.1 357.7L625.4 363.5L625.7 369.6L626.0 375.9L626.2 487.5L626.2 530.0L630.1 530.0L630.1 487.5L630.3 378.7L630.6 372.4L630.9 366.3L631.2 360.5L631.5 355.1L631.8 350.7L633.0 350.4L634.2 350.7L634.5 355.1L634.8 360.5L635.1 366.3L635.4 372.4L635.7 378.7L636.0 487.5L636.0 530.0L639.8 530.0L639.8 487.5L640.0 381.3L640.3 375.0L640.6 368.9L640.9 363.1L641.2 357.7L641.5 353.3L642.7 353.0L643.9 353.3L644.2 357.7L644.5 363.1L644.8 368.9L645.1 375.0L645.4 381.3L645.7 487.5L645.7 530.0L649.5 530.0L649.5 487.5L649.8 383.9L650.1 377.6L650.4 371.5L650.7 365.7L651.0 360.3L651.3 355.9L652.5 355.6L653.7 355.9L654.0 360.3L654.3 365.7L654.6 371.5L654.9 377.6L655.2 383.9L655.4 487.5L655.4 530.0L659.3 530.0L659.3 487.5L659.5 386.7L659.8 380.4L660.1 374.3L660.4 368.5L660.7 363.1L661.0 358.7L662.2 358.4L663.4 358.7L663.7 363.1L664.0 368.5L664.3 374.3L664.6 380.4L664.9 386.7L665.2 487.5L665.2 530.0L669.0 530.0L669.0 487.5L669.3 389.3L669.6 383.0L669.9 376.9L670.2 371.1L670.5 365.7L670.8 361.3L672.0 361.0L673.2 361.3L673.5 365.7L673.8 371.1L674.1 376.9L674.4 383.0L674.7 389.3L674.9 487.5L674.9 530.0L678.7 530.0L678.7 487.5L679.0 391.7L679.3 385.4L679.6 379.3L679.9 373.5L680.2 368.1L680.5 363.7L681.7 363.4L682.9 363.7L683.2 368.1L683.5 373.5L683.8 379.3L684.1 385.4L684.4 391.7L684.6 487.5L684.6 530.0L688.5 530.0L688.5 487.5L688.7 393.9L689.0 387.6L689.3 381.5L689.6 375.7L689.9 370.3L690.2 365.9L691.4 365.6L692.6 365.9L692.9 370.3L693.2 375.7L693.5 381.5L693.8 387.6L694.1 393.9L694.4 487.5L694.4 530.0L698.2 530.0L698.2 487.5L698.5 395.9L698.8 389.6L699.1 383.5L699.4 377.7L699.7 372.3L700.0 367.9L701.2 367.6L702.4 367.9L702.7 372.3L703.0 377.7L703.3 383.5L703.6 389.6L703.9 395.9L704.1 487.5L704.1 530.0"/>
</g>
<text class="t" transform="translate(57.6 512.9) scale(0.967 1)" text-anchor="middle">1600</text>
<text class="t" transform="translate(122.5 512.9) scale(0.967 1)" text-anchor="middle">1620</text>
<text class="t" transform="translate(187.4 512.9) scale(0.967 1)" text-anchor="middle">1640</text>
<text class="t" transform="translate(252.3 512.9) scale(0.967 1)" text-anchor="middle">1660</text>
<text class="t" transform="translate(317.2 512.9) scale(0.967 1)" text-anchor="middle">1680</text>
<text class="t" transform="translate(382.1 512.9) scale(0.967 1)" text-anchor="middle">1700</text>
<text class="t" transform="translate(447.0 512.9) scale(0.967 1)" text-anchor="middle">1720</text>
<text class="t" transform="translate(511.9 512.9) scale(0.967 1)" text-anchor="middle">1740</text>
<text class="t" transform="translate(576.8 512.9) scale(0.967 1)" text-anchor="middle">1760</text>
<text class="t" transform="translate(641.7 512.9) scale(0.967 1)" text-anchor="middle">1780</text>
<text class="t" transform="translate(706.6 512.9) scale(0.967 1)" text-anchor="middle">1800</text>
<text class="t" transform="translate(50.0 11.9) scale(0.997 1)" text-anchor="end">0</text>
<text class="t" transform="translate(50.0 92.2) scale(0.997 1)" text-anchor="end">-5</text>
<text class="t" transform="translate(50.0 172.6) scale(0.997 1)" text-anchor="end">-10</text>
<text class="t" transform="translate(50.0 252.9) scale(0.997 1)" text-anchor="end">-15</text>
<text class="t" transform="translate(50.0 333.2) scale(0.997 1)" text-anchor="end">-20</text>
<text class="t" transform="translate(50.0 413.6) scale(0.997 1)" text-anchor="end">-25</text>
<text class="t" transform="translate(50.0 493.9) scale(0.997 1)" text-anchor="end">-30</text>
<text class="l" transform="translate(382.4 538.4) scale(0.92 1)" text-anchor="middle">Range/m</text>
<text class="l" transform="translate(14.5 247.6) rotate(-90) scale(0.926 1)" text-anchor="middle">Normalized Amplitude/dB</text>
<rect x="422.5" y="5.5" width="285.0" height="47" fill="#fff" stroke="#262626" stroke-width="1" shape-rendering="crispEdges"/>
<path d="M428.0 18.5h52" stroke="#ff0000" stroke-width="1" fill="none"/>
<path d="M428.0 39.5h52" stroke="#0000ff" stroke-width="1" fill="none"/>
<text class="lg" transform="translate(483.8 24.6) scale(1.088 1)">Traditional keystone transform</text>
<text class="lg" transform="translate(483.8 45.8) scale(1.088 1)">Decimation Keystone algorithm</text>
<text class="pl" transform="translate(-0.9 35) scale(1.03 1)">A</text>
<text class="cap" transform="translate(408.3 600.9) scale(0.9987 1)" text-anchor="middle">Comparison of traditional keystone</text>
<text class="cap" transform="translate(382.8 645.6) scale(0.9987 1)" text-anchor="middle">transform and decimation keystone algorithm</text>
</g>
<g id="plotB">
<clipPath id="clip1"><rect x="835.0" y="4.5" width="648.0" height="482.5"/></clipPath>
<rect class="ax" x="834.5" y="5.5" width="649.0" height="482.0"/>
<path d="M899.40 487.5v-6.5M899.40 5.5v6.5M964.30 487.5v-6.5M964.30 5.5v6.5M1029.20 487.5v-6.5M1029.20 5.5v6.5M1094.10 487.5v-6.5M1094.10 5.5v6.5M1159.00 487.5v-6.5M1159.00 5.5v6.5M1223.90 487.5v-6.5M1223.90 5.5v6.5M1288.80 487.5v-6.5M1288.80 5.5v6.5M1353.70 487.5v-6.5M1353.70 5.5v6.5M1418.60 487.5v-6.5M1418.60 5.5v6.5M834.5 85.83h6.5M1483.5 85.83h-6.5M834.5 166.17h6.5M1483.5 166.17h-6.5M834.5 246.50h6.5M1483.5 246.50h-6.5M834.5 326.83h6.5M1483.5 326.83h-6.5M834.5 407.17h6.5M1483.5 407.17h-6.5" stroke="#262626" stroke-width="1" fill="none"/>
<g clip-path="url(#clip1)">
<path class="r" d="M831.7 399.3L832.0 390.8L832.3 382.6L832.6 374.8L832.9 367.6L833.2 361.7L834.4 361.4L835.6 361.7L835.9 367.6L836.2 374.8L836.5 382.6L836.8 390.8L837.1 399.3M841.4 397.3L841.7 388.8L842.0 380.6L842.3 372.8L842.6 365.6L842.9 359.7L844.1 359.4L845.3 359.7L845.6 365.6L845.9 372.8L846.2 380.6L846.5 388.8L846.8 397.3M851.2 394.9L851.5 386.4L851.8 378.2L852.1 370.4L852.4 363.2L852.7 357.3L853.9 357.0L855.1 357.3L855.4 363.2L855.7 370.4L856.0 378.2L856.3 386.4L856.6 394.9M860.9 392.7L861.2 384.1L861.5 375.9L861.8 368.1L862.1 360.8L862.4 354.9L863.6 354.6L864.8 354.9L865.1 360.8L865.4 368.1L865.7 375.9L866.0 384.1L866.3 392.7M870.7 390.5L871.0 381.9L871.3 373.7L871.6 365.9L871.9 358.6L872.2 352.7L873.4 352.4L874.6 352.7L874.9 358.6L875.2 365.9L875.5 373.7L875.8 381.9L876.1 390.5M880.4 388.5L880.7 379.9L881.0 371.5L881.3 363.6L881.6 356.3L881.9 350.3L883.1 350.0L884.3 350.3L884.6 356.3L884.9 363.6L885.2 371.5L885.5 379.9L885.8 388.5M890.1 385.7L890.4 377.1L890.7 368.8L891.0 360.9L891.3 353.7L891.6 347.7L892.8 347.4L894.0 347.7L894.3 353.7L894.6 360.9L894.9 368.8L895.2 377.1L895.5 385.7M899.9 383.7L900.2 375.0L900.5 366.6L900.8 358.7L901.1 351.3L901.4 345.3L902.6 345.0L903.8 345.3L904.1 351.3L904.4 358.7L904.7 366.6L905.0 375.0L905.3 383.7M909.6 380.9L909.9 372.2L910.2 363.8L910.5 355.8L910.8 348.4L911.1 342.3L912.3 342.0L913.5 342.3L913.8 348.4L914.1 355.8L914.4 363.8L914.7 372.2L915.0 380.9M919.4 378.9L919.7 370.0L920.0 361.5L920.3 353.4L920.6 345.9L920.9 339.7L922.1 339.4L923.3 339.7L923.6 345.9L923.9 353.4L924.2 361.5L924.5 370.0L924.8 378.9M929.1 376.7L929.4 367.6L929.7 358.9L930.0 350.6L930.3 343.0L930.6 336.7L931.8 336.4L933.0 336.7L933.3 343.0L933.6 350.6L933.9 358.9L934.2 367.6L934.5 376.7M938.8 374.9L939.1 365.6L939.4 356.6L939.7 348.1L940.0 340.2L940.3 333.7L941.5 333.4L942.7 333.7L943.0 340.2L943.3 348.1L943.6 356.6L943.9 365.6L944.2 374.9M948.6 376.7L948.9 365.7L949.2 355.2L949.5 345.2L949.8 335.9L950.1 328.3L951.3 328.0L952.5 328.3L952.8 335.9L953.1 345.2L953.4 355.2L953.7 365.7L954.0 376.7L954.7 487.5L954.7 530.0L957.4 530.0L957.4 487.5L957.4 380.1L957.9 369.3L958.4 358.9L958.8 349.0L959.3 339.8L959.8 332.3L961.0 332.0L962.2 332.3L962.6 337.5L962.9 343.9L963.3 350.7L963.6 358.0L964.0 365.5M967.8 358.5L968.1 351.0L968.5 343.7L968.8 336.9L969.2 330.5L969.5 325.3L970.7 325.0L971.9 325.3L972.4 331.6L972.8 339.2L973.2 347.5L973.6 356.1L974.0 365.2L974.0 487.5L974.0 530.0L977.4 530.0L977.4 487.5L977.4 361.8L977.8 353.6L978.2 345.8L978.5 338.3L978.9 331.4L979.3 325.7L980.5 325.4L981.7 325.7L982.3 335.8L982.9 348.0L983.5 361.3L984.2 375.2L984.8 389.7L986.0 452.0L986.5 357.8L987.0 346.4L987.5 335.4L988.0 324.9L988.5 315.2L989.0 307.3L990.2 307.0L991.4 307.3L992.0 317.4L992.7 329.6L993.3 342.9L993.9 356.8L994.5 371.3L995.4 458.0L995.9 383.7L996.5 370.5L997.0 357.8L997.6 345.7L998.2 334.5L998.8 325.3L1000.0 325.0L1001.2 325.3L1001.8 333.0L1002.4 342.5L1003.0 352.6L1003.6 363.4L1004.3 374.5L1005.0 407.0L1005.5 355.0L1006.1 341.0L1006.7 327.6L1007.3 314.8L1007.9 303.0L1008.5 293.3L1009.7 293.0L1010.9 293.3L1011.5 303.0L1012.1 314.8L1012.7 327.5L1013.3 340.9L1013.9 354.9L1014.4 433.0L1015.1 376.3L1015.8 361.8L1016.4 347.9L1017.0 334.6L1017.6 322.4L1018.2 312.3L1019.4 312.0L1020.6 312.3L1021.3 322.4L1021.9 334.6L1022.5 347.9L1023.1 361.8L1023.7 376.3L1024.4 438.0L1024.9 355.2L1025.5 340.8L1026.1 327.0L1026.7 313.8L1027.4 301.7L1028.0 291.7L1029.2 291.4L1030.4 291.7L1030.8 297.8L1031.2 305.3L1031.6 313.4L1032.0 322.0L1032.4 330.8L1032.4 487.5L1032.4 530.0L1036.2 530.0L1036.2 487.5L1036.2 321.5L1036.5 315.1L1036.8 309.0L1037.1 303.1L1037.4 297.7L1037.7 293.3L1038.9 293.0L1040.1 293.3L1040.7 303.4L1041.4 315.6L1042.0 328.9L1042.6 342.8L1043.2 357.3L1044.0 425.0L1044.5 337.5L1045.1 323.8L1045.7 310.6L1046.3 298.0L1046.9 286.4L1047.5 276.9L1048.7 276.6L1049.9 276.9L1050.5 287.0L1051.1 299.2L1051.7 312.5L1052.3 326.4L1053.0 340.9L1053.0 487.5L1053.0 530.0L1054.9 530.0L1054.9 487.5L1054.9 319.6L1055.4 309.4L1055.8 299.5L1056.3 290.1L1056.7 281.4L1057.2 274.3L1058.4 274.0L1059.6 274.3L1059.9 279.5L1060.3 285.9L1060.6 292.7L1061.0 300.0L1061.3 307.5M1065.2 299.9L1065.5 292.4L1065.9 285.1L1066.2 278.3L1066.6 271.9L1066.9 266.7L1068.1 266.4L1069.3 266.7L1069.8 273.7L1070.2 282.2L1070.7 291.5L1071.1 301.2L1071.6 311.3L1071.6 487.5L1071.6 530.0L1075.0 530.0L1075.0 487.5L1075.0 289.8L1075.3 282.7L1075.7 275.8L1076.0 269.3L1076.3 263.3L1076.7 258.3L1077.9 258.0L1079.1 258.3L1079.7 267.7L1080.2 279.2L1080.8 291.6L1081.4 304.6L1082.0 318.2L1082.0 487.5L1082.0 530.0L1084.0 530.0L1084.0 487.5L1084.0 284.3L1084.5 276.2L1085.0 268.3L1085.4 260.9L1085.9 254.0L1086.4 248.3L1087.6 248.0L1088.8 248.3L1089.1 251.8L1089.4 256.0L1089.8 260.6L1090.1 265.5L1090.4 270.5L1090.4 487.5L1090.4 530.0L1094.2 530.0L1094.2 487.5L1094.2 264.5L1094.6 258.1L1095.0 252.0L1095.4 246.1L1095.8 240.7L1096.2 236.3L1097.4 236.0L1098.6 236.3L1099.0 241.0L1099.4 246.7L1099.8 252.9L1100.2 259.3L1100.6 266.1L1100.6 487.5L1100.6 530.0L1104.4 530.0L1104.4 487.5L1104.4 242.6L1104.7 237.9L1105.0 233.4L1105.3 229.1L1105.6 225.2L1105.9 221.9L1107.1 221.6L1108.3 221.9L1108.6 224.9L1108.9 228.7L1109.1 232.7L1109.4 236.9L1109.7 241.3L1110.2 420.0L1112.5 251.3L1113.2 240.4L1113.8 230.0L1114.4 220.0L1115.0 210.8L1115.6 203.3L1116.8 203.0L1118.0 203.3L1118.3 206.2L1118.6 209.8L1118.9 213.7L1119.1 217.8L1119.4 222.1L1119.9 340.0L1122.3 226.3L1122.9 215.4L1123.5 205.0L1124.1 195.0L1124.8 185.8L1125.4 178.3L1126.6 178.0L1127.8 178.3L1128.1 181.6L1128.4 185.7L1128.7 190.1L1129.0 194.8L1129.3 199.6L1129.8 250.0L1132.0 188.3L1132.6 177.4L1133.2 167.0L1133.9 157.0L1134.5 147.8L1135.1 140.3L1136.3 140.0L1136.7 140.6L1137.2 142.3L1137.6 145.1L1138.0 149.0L1138.5 154.0L1138.9 160.0L1139.1 165.2L1139.2 174.8L1139.4 187.6L1139.6 202.5L1139.8 218.2L1140.0 233.6L1140.1 247.6L1140.3 259.0L1140.6 274.8L1140.9 288.8L1141.2 301.0L1141.4 292.5L1141.7 277.6L1141.9 259.0L1142.0 249.7L1142.1 237.4L1142.2 223.1L1142.2 207.9L1142.3 192.9L1142.4 179.2L1142.5 167.9L1142.6 160.0L1143.0 143.0L1143.3 130.0L1143.6 116.1L1143.9 102.3L1144.2 91.7L1144.7 80.9L1145.1 71.9L1145.5 64.2L1146.0 57.5L1146.5 51.6L1146.9 45.9L1147.4 40.3L1147.8 35.1L1148.3 30.4L1148.7 26.3L1149.2 22.9L1149.6 20.1L1150.0 17.4L1150.4 14.7L1150.8 12.2L1151.3 9.9L1151.7 8.0L1152.1 6.6L1152.5 5.6L1152.9 5.3L1153.3 5.5L1153.7 6.2L1154.2 7.3L1154.6 8.7L1155.0 10.3L1155.4 12.2L1155.8 14.3L1156.2 16.4L1156.7 18.6L1157.1 20.8L1157.5 22.9L1157.9 25.2L1158.3 27.7L1158.8 30.5L1159.2 33.5L1159.6 36.5L1160.0 39.7L1160.5 42.8L1160.9 45.9L1161.3 49.1L1161.8 52.4L1162.2 55.8L1162.6 59.2L1163.0 62.6L1163.5 65.8L1163.9 68.8L1164.3 71.9L1164.8 75.0L1165.2 78.1L1165.7 80.8L1166.2 83.2L1166.6 84.9L1167.1 86.1L1167.5 87.1L1168.0 88.0L1168.5 88.7L1168.9 89.6L1169.4 90.6L1169.8 91.7L1170.3 92.8L1170.7 94.0L1171.1 95.2L1171.6 96.6L1172.0 98.0L1172.4 99.6L1172.9 101.3L1173.3 103.2L1173.8 105.5L1174.2 108.2L1174.7 111.3L1175.1 114.7L1175.6 118.5L1176.0 122.6L1176.5 127.0L1176.9 131.6L1177.3 137.1L1177.7 143.0L1178.1 149.0L1178.5 154.7L1178.9 160.2L1179.3 166.0L1179.7 172.5L1180.1 180.0L1180.5 190.7L1181.0 204.4L1181.4 219.6L1181.8 234.7L1182.3 248.3L1182.7 259.0L1183.1 267.2L1183.5 274.6L1184.0 281.2L1184.4 286.7L1184.8 291.0L1185.2 288.0L1185.7 283.8L1186.2 278.6L1186.6 272.6L1187.0 266.0L1187.5 259.0L1187.9 250.5L1188.3 239.6L1188.8 227.9L1189.2 217.3L1189.6 209.5L1190.0 204.1L1190.4 199.1L1190.8 194.9L1191.2 191.6L1191.6 189.6L1192.0 188.4L1192.4 187.3L1192.8 186.4L1193.2 185.9L1193.6 185.7L1194.0 186.1L1194.4 187.3L1194.8 189.1L1195.2 191.2L1195.6 193.6L1196.1 197.8L1196.6 204.2L1197.0 212.1L1197.5 220.7L1198.0 229.4L1198.5 237.9L1198.9 247.4L1199.4 259.0L1199.7 267.3L1200.0 276.8L1200.2 287.4L1200.5 299.2L1200.8 312.0L1201.0 325.7L1201.3 340.4L1201.6 356.0L1202.0 338.9L1202.4 324.5L1202.8 313.1L1203.2 305.0L1203.6 298.9L1204.0 296.0L1204.4 299.2L1204.8 305.0L1205.3 311.0L1205.7 317.4L1206.2 324.2L1206.6 331.4L1207.1 339.1L1207.5 347.3L1208.0 356.0L1208.3 341.2L1208.6 327.2L1208.9 313.9L1209.2 301.4L1209.4 289.6L1209.7 278.6L1210.0 268.4L1210.3 259.0L1210.7 245.5L1211.2 233.5L1211.6 225.4L1212.1 219.6L1212.5 214.7L1213.0 211.3L1213.5 210.0L1213.9 210.4L1214.3 211.5L1214.7 213.2L1215.1 215.2L1215.5 217.5L1215.9 220.4L1216.3 224.4L1216.7 229.5L1217.1 235.5L1217.5 242.5L1217.9 250.4L1218.3 259.0L1218.6 266.8L1218.8 277.4L1219.1 290.3L1219.4 304.7L1219.7 320.0L1219.9 335.4L1220.2 350.3L1220.5 364.0L1220.7 375.8L1221.0 385.0L1221.4 395.2L1221.8 403.0L1221.8 398.1L1221.9 398.0L1222.1 397.7L1222.2 397.2L1222.4 396.4L1222.5 395.5L1222.6 394.3L1222.8 392.9L1222.9 391.3L1223.1 389.5L1223.2 388.0L1223.4 391.9L1223.6 398.9L1223.7 408.0L1223.9 416.7L1224.1 424.1L1224.3 430.1L1224.5 434.8L1224.6 438.1L1224.8 440.1L1225.0 440.8L1225.0 444.0L1225.2 429.7L1225.5 415.7L1225.8 402.4L1226.0 390.0L1226.3 374.2L1226.7 358.1L1227.0 342.0L1227.3 326.3L1227.7 311.3L1228.0 297.4L1228.3 284.8L1228.6 274.0L1229.0 265.3L1229.3 259.0L1229.7 252.9L1230.1 247.2L1230.5 241.9L1230.9 237.2L1231.4 233.0L1231.8 229.7L1232.2 227.1L1232.6 225.6L1233.0 225.0L1233.4 225.6L1233.9 227.2L1234.3 229.9L1234.7 233.3L1235.2 237.5L1235.6 242.3L1236.0 247.6L1236.5 253.2L1236.9 259.0L1237.3 265.9L1237.7 275.1L1238.1 286.3L1238.5 299.1L1239.0 313.1L1239.4 328.1L1239.8 343.6L1240.2 359.4L1240.6 374.9L1241.0 390.0L1241.3 401.8L1241.6 414.1L1242.0 426.8L1242.3 439.8L1242.6 453.0L1243.1 442.7L1243.6 431.2L1244.0 418.5L1244.5 404.7L1245.0 390.0L1245.3 378.5L1245.6 364.7L1246.0 349.3L1246.3 333.0L1246.6 316.7L1246.9 301.0L1247.2 286.6L1247.6 274.4L1247.9 264.9L1248.2 259.0L1248.6 254.3L1249.0 249.9L1249.4 245.8L1249.8 242.1L1250.2 238.8L1250.6 235.9L1251.0 233.5L1251.4 231.6L1251.8 230.2L1252.2 229.3L1252.6 229.0L1253.0 229.5L1253.5 231.0L1253.9 233.2L1254.4 236.2L1254.8 239.6L1255.2 243.5L1255.7 247.6L1256.1 251.8L1256.6 256.0L1257.0 260.0L1257.4 263.8L1257.8 267.9L1258.2 272.2L1258.7 276.7L1259.1 281.4L1259.5 286.4L1259.9 291.5L1260.3 296.9L1260.8 302.4L1261.2 308.1L1261.6 314.0L1262.0 320.0L1262.4 312.8L1262.8 305.8L1263.2 299.0L1263.6 292.4L1264.0 286.1L1264.4 280.1L1264.8 274.4L1265.2 269.2L1265.6 264.4L1266.0 260.0L1266.4 255.8L1266.8 251.6L1267.2 247.4L1267.6 243.2L1268.0 239.1L1268.4 235.2L1268.8 231.5L1269.2 228.1L1269.6 225.1L1270.0 222.5L1270.4 220.4L1270.8 218.8L1271.2 217.7L1271.6 217.4L1272.0 217.7L1272.4 218.6L1272.8 220.1L1273.2 222.2L1273.6 224.7L1274.0 227.7L1274.4 231.0L1274.8 234.8L1275.2 238.9L1275.6 243.2L1276.0 247.9L1276.4 252.7L1276.8 257.7L1277.2 262.8L1277.6 268.0L1278.0 273.9L1278.4 281.2L1278.8 289.5L1279.2 298.9L1279.6 309.3L1280.0 320.3L1280.4 332.0L1280.8 344.2L1281.2 356.8L1281.6 369.6L1282.0 357.0L1282.4 344.5L1282.8 332.5L1283.2 320.9L1283.6 309.9L1284.0 299.7L1284.4 290.2L1284.8 281.7L1285.2 274.3L1285.6 268.0L1286.0 262.4L1286.4 256.8L1286.8 251.4L1287.2 246.1L1287.6 241.0L1288.0 236.1L1288.4 231.6L1288.8 227.4L1289.2 223.6L1289.6 220.3L1290.0 217.4L1290.4 215.1L1290.8 213.4L1291.2 212.4L1291.6 212.0L1292.0 212.2L1292.5 212.9L1292.9 214.0L1293.3 215.6L1293.7 217.5L1294.2 220.0L1294.6 222.8L1295.0 226.0L1295.4 229.7L1295.9 233.8L1296.3 238.2L1296.7 243.1L1297.1 248.3L1297.6 254.0L1298.0 260.0L1298.3 265.5L1298.5 274.0L1298.8 285.0L1299.0 298.0L1299.3 312.5L1299.6 328.0L1299.8 344.0L1300.1 360.1L1300.3 375.5L1300.6 390.0L1301.0 412.0L1301.0 411.1L1301.2 410.0L1301.5 406.9L1301.7 401.6L1302.0 394.3L1302.2 384.9L1302.4 373.9L1302.7 364.0L1302.9 355.6L1303.2 349.1L1303.4 345.6L1304.6 345.9L1304.7 347.4L1304.8 349.3L1305.0 351.3L1305.1 353.5L1305.2 355.7L1305.2 487.5L1305.2 530.0L1309.2 530.0L1309.2 487.5L1309.2 334.4L1309.4 330.1L1309.7 326.0L1309.9 322.1L1310.2 318.5L1310.4 315.6L1311.6 315.3L1312.8 315.6L1313.1 319.4L1313.4 324.0L1313.7 328.9L1314.0 334.2L1314.3 339.6M1318.7 339.3L1319.0 333.4L1319.2 327.7L1319.6 322.4L1319.8 317.4L1320.2 313.3L1321.3 313.0L1322.6 313.3L1322.8 317.4L1323.2 322.4L1323.5 327.7L1323.8 333.4L1324.1 339.3M1328.4 346.9L1328.7 340.4L1329.0 334.2L1329.3 328.3L1329.6 322.8L1329.9 318.3L1331.1 318.0L1332.3 318.3L1332.6 322.8L1332.9 328.3L1333.2 334.2L1333.5 340.4L1333.8 346.9M1338.1 352.3L1338.4 345.4L1338.7 338.8L1339.0 332.6L1339.3 326.8L1339.6 322.0L1340.8 321.7L1342.0 322.0L1342.3 326.8L1342.6 332.6L1342.9 338.8L1343.2 345.4L1343.5 352.3M1347.9 357.3L1348.2 350.1L1348.5 343.1L1348.8 336.5L1349.1 330.3L1349.4 325.3L1350.6 325.0L1351.8 325.3L1352.1 330.3L1352.4 336.5L1352.7 343.1L1353.0 350.1L1353.3 357.3M1357.6 361.7L1357.9 354.3L1358.2 347.1L1358.5 340.3L1358.8 334.1L1359.1 328.9L1360.3 328.6L1361.5 328.9L1361.8 334.1L1362.1 340.3L1362.4 347.1L1362.7 354.3L1363.0 361.7M1367.3 365.3L1367.6 357.8L1367.9 350.6L1368.2 343.8L1368.5 337.5L1368.8 332.3L1370.0 332.0L1371.2 332.3L1371.5 337.5L1371.8 343.8L1372.1 350.6L1372.4 357.8L1372.7 365.3M1377.1 368.9L1377.4 361.3L1377.7 354.0L1378.0 347.0L1378.3 340.6L1378.6 335.3L1379.8 335.0L1381.0 335.3L1381.3 340.6L1381.6 347.0L1381.9 354.0L1382.2 361.3L1382.5 368.9M1386.8 372.7L1387.1 365.0L1387.4 357.5L1387.7 350.4L1388.0 343.9L1388.3 338.5L1389.5 338.2L1390.7 338.5L1391.0 343.9L1391.3 350.4L1391.6 357.5L1391.9 365.0L1392.2 372.7M1396.6 375.9L1396.9 368.1L1397.2 360.5L1397.5 353.4L1397.8 346.7L1398.1 341.3L1399.3 341.0L1400.5 341.3L1400.8 346.7L1401.1 353.4L1401.4 360.5L1401.7 368.1L1402.0 375.9M1406.3 378.7L1406.6 370.9L1406.9 363.4L1407.2 356.3L1407.5 349.7L1407.8 344.3L1409.0 344.0L1410.2 344.3L1410.5 349.7L1410.8 356.3L1411.1 363.4L1411.4 370.9L1411.7 378.7M1416.0 381.3L1416.3 373.5L1416.6 366.0L1416.9 358.8L1417.2 352.2L1417.5 346.8L1418.7 346.5L1419.9 346.8L1420.2 352.2L1420.5 358.8L1420.8 366.0L1421.1 373.5L1421.4 381.3M1425.8 383.9L1426.1 376.1L1426.4 368.5L1426.7 361.4L1427.0 354.7L1427.3 349.3L1428.5 349.0L1429.7 349.3L1430.0 354.7L1430.3 361.4L1430.6 368.5L1430.9 376.1L1431.2 383.9M1435.5 386.7L1435.8 378.8L1436.1 371.2L1436.4 364.0L1436.7 357.3L1437.0 351.8L1438.2 351.5L1439.4 351.8L1439.7 357.3L1440.0 364.0L1440.3 371.2L1440.6 378.8L1440.9 386.7M1445.3 389.3L1445.6 381.4L1445.9 373.8L1446.2 366.5L1446.5 359.8L1446.8 354.3L1448.0 354.0L1449.2 354.3L1449.5 359.8L1449.8 366.5L1450.1 373.8L1450.4 381.4L1450.7 389.3M1455.0 391.7L1455.3 383.7L1455.6 376.0L1455.9 368.6L1456.2 361.9L1456.5 356.3L1457.7 356.0L1458.9 356.3L1459.2 361.9L1459.5 368.6L1459.8 376.0L1460.1 383.7L1460.4 391.7M1464.7 393.9L1465.0 386.0L1465.3 378.3L1465.6 371.0L1465.9 364.3L1466.2 358.8L1467.4 358.5L1468.6 358.8L1468.9 364.3L1469.2 371.0L1469.5 378.3L1469.8 386.0L1470.1 393.9M1474.5 395.9L1474.8 388.0L1475.1 380.4L1475.4 373.2L1475.7 366.5L1476.0 361.0L1477.2 360.7L1478.4 361.0L1478.7 366.5L1479.0 373.2L1479.3 380.4L1479.6 388.0L1479.9 395.9"/>
<path class="b" d="M831.5 530.0L831.5 487.5L831.7 399.3L832.0 393.0L832.3 386.9L832.6 381.1L832.9 375.7L833.2 371.3L834.4 371.0L835.6 371.3L835.9 375.7L836.2 381.1L836.5 386.9L836.8 393.0L837.1 399.3L837.4 487.5L837.4 530.0L841.2 530.0L841.2 487.5L841.4 397.3L841.7 391.0L842.0 384.9L842.3 379.1L842.6 373.7L842.9 369.3L844.1 369.0L845.3 369.3L845.6 373.7L845.9 379.1L846.2 384.9L846.5 391.0L846.8 397.3L847.1 487.5L847.1 530.0L850.9 530.0L850.9 487.5L851.2 394.9L851.5 388.6L851.8 382.5L852.1 376.7L852.4 371.3L852.7 366.9L853.9 366.6L855.1 366.9L855.4 371.3L855.7 376.7L856.0 382.5L856.3 388.6L856.6 394.9L856.8 487.5L856.8 530.0L860.7 530.0L860.7 487.5L860.9 392.7L861.2 386.4L861.5 380.3L861.8 374.5L862.1 369.1L862.4 364.7L863.6 364.4L864.8 364.7L865.1 369.1L865.4 374.5L865.7 380.3L866.0 386.4L866.3 392.7L866.6 487.5L866.6 530.0L870.4 530.0L870.4 487.5L870.7 390.5L871.0 384.2L871.3 378.1L871.6 372.3L871.9 366.9L872.2 362.5L873.4 362.2L874.6 362.5L874.9 366.9L875.2 372.3L875.5 378.1L875.8 384.2L876.1 390.5L876.3 487.5L876.3 530.0L880.1 530.0L880.1 487.5L880.4 388.5L880.7 382.2L881.0 376.1L881.3 370.3L881.6 364.9L881.9 360.5L883.1 360.2L884.3 360.5L884.6 364.9L884.9 370.3L885.2 376.1L885.5 382.2L885.8 388.5L886.0 487.5L886.0 530.0L889.9 530.0L889.9 487.5L890.1 385.7L890.4 379.4L890.7 373.3L891.0 367.5L891.3 362.1L891.6 357.7L892.8 357.4L894.0 357.7L894.3 362.1L894.6 367.5L894.9 373.3L895.2 379.4L895.5 385.7L895.8 487.5L895.8 530.0L899.6 530.0L899.6 487.5L899.9 383.7L900.2 377.4L900.5 371.3L900.8 365.5L901.1 360.1L901.4 355.7L902.6 355.4L903.8 355.7L904.1 360.1L904.4 365.5L904.7 371.3L905.0 377.4L905.3 383.7L905.5 487.5L905.5 530.0L909.4 530.0L909.4 487.5L909.6 380.9L909.9 374.6L910.2 368.5L910.5 362.7L910.8 357.3L911.1 352.9L912.3 352.6L913.5 352.9L913.8 357.3L914.1 362.7L914.4 368.5L914.7 374.6L915.0 380.9L915.3 487.5L915.3 530.0L919.1 530.0L919.1 487.5L919.4 378.9L919.7 372.6L920.0 366.5L920.3 360.7L920.6 355.3L920.9 350.9L922.1 350.6L923.3 350.9L923.6 355.3L923.9 360.7L924.2 366.5L924.5 372.6L924.8 378.9L925.0 487.5L925.0 530.0L928.8 530.0L928.8 487.5L929.1 376.7L929.4 370.4L929.7 364.3L930.0 358.5L930.3 353.1L930.6 348.7L931.8 348.4L933.0 348.7L933.3 353.1L933.6 358.5L933.9 364.3L934.2 370.4L934.5 376.7L934.7 487.5L934.7 530.0L938.6 530.0L938.6 487.5L938.8 374.9L939.1 368.6L939.4 362.5L939.7 356.7L940.0 351.3L940.3 346.9L941.5 346.6L942.7 346.9L943.0 351.3L943.3 356.7L943.6 362.5L943.9 368.6L944.2 374.9L944.5 487.5L944.5 530.0L948.3 530.0L948.3 487.5L948.6 376.7L948.9 370.4L949.2 364.3L949.5 358.5L949.8 353.1L950.1 348.7L951.3 348.4L952.5 348.7L952.8 353.1L953.1 358.5L953.4 364.3L953.7 370.4L954.0 376.7L956.2 450.0L958.3 356.3L958.6 350.0L958.9 343.9L959.2 338.1L959.5 332.7L959.8 328.3L961.0 328.0L962.2 328.3L962.5 332.7L962.8 338.1L963.1 343.9L963.4 350.0L963.7 356.3L964.4 487.5L964.4 530.0L966.8 530.0L966.8 487.5L968.0 360.9L968.3 354.6L968.6 348.5L968.9 342.7L969.2 337.3L969.5 332.9L970.7 332.6L971.9 332.9L972.2 337.3L972.5 342.7L972.8 348.5L973.1 354.6L973.4 360.9L974.5 487.5L974.5 530.0L977.0 530.0L977.0 487.5L977.8 356.3L978.1 350.0L978.4 343.9L978.7 338.1L979.0 332.7L979.3 328.3L980.5 328.0L981.7 328.3L982.0 332.7L982.3 338.1L982.6 343.9L982.9 350.0L983.2 356.3L984.6 487.5L984.6 530.0L987.0 530.0L987.0 487.5L987.5 354.9L987.8 348.6L988.1 342.5L988.4 336.7L988.7 331.3L989.0 326.9L990.2 326.6L991.4 326.9L991.7 331.3L992.0 336.7L992.3 342.5L992.6 348.6L992.9 354.9L994.2 487.5L994.2 530.0L996.6 530.0L996.6 487.5L997.3 348.7L997.6 342.4L997.9 336.3L998.2 330.5L998.5 325.1L998.8 320.7L1000.0 320.4L1001.2 320.7L1001.5 325.1L1001.8 330.5L1002.1 336.3L1002.4 342.4L1002.7 348.7L1003.0 487.5L1003.0 530.0L1006.0 530.0L1006.0 487.5L1007.0 346.9L1007.3 340.6L1007.6 334.5L1007.9 328.7L1008.2 323.3L1008.5 318.9L1009.7 318.6L1010.9 318.9L1011.2 323.3L1011.5 328.7L1011.8 334.5L1012.1 340.6L1012.4 346.9L1013.0 487.5L1013.0 530.0L1016.0 530.0L1016.0 487.5L1016.7 338.7L1017.0 332.4L1017.3 326.3L1017.6 320.5L1017.9 315.1L1018.2 310.7L1019.4 310.4L1020.6 310.7L1020.9 315.1L1021.2 320.5L1021.5 326.3L1021.8 332.4L1022.1 338.7L1023.0 487.5L1023.0 530.0L1026.0 530.0L1026.0 487.5L1026.5 345.9L1026.8 339.6L1027.1 333.5L1027.4 327.7L1027.7 322.3L1028.0 317.9L1029.2 317.6L1030.4 317.9L1030.7 322.3L1031.0 327.7L1031.3 333.5L1031.6 339.6L1031.9 345.9L1034.0 417.0L1036.2 318.3L1036.5 312.0L1036.8 305.9L1037.1 300.1L1037.4 294.7L1037.7 290.3L1038.9 290.0L1040.1 290.3L1040.4 294.7L1040.7 300.1L1041.0 305.9L1041.3 312.0L1041.6 318.3L1044.0 430.0L1046.0 335.3L1046.3 329.0L1046.6 322.9L1046.9 317.1L1047.2 311.7L1047.5 307.3L1048.7 307.0L1049.9 307.3L1050.2 311.7L1050.5 317.1L1050.8 322.9L1051.1 329.0L1051.4 335.3L1054.0 440.0L1055.7 314.3L1056.0 308.0L1056.3 301.9L1056.6 296.1L1056.9 290.7L1057.2 286.3L1058.4 286.0L1059.6 286.3L1059.9 290.7L1060.2 296.1L1060.5 301.9L1060.8 308.0L1061.1 314.3L1062.0 487.5L1062.0 530.0L1065.0 530.0L1065.0 487.5L1065.4 313.9L1065.7 307.6L1066.0 301.5L1066.3 295.7L1066.6 290.3L1066.9 285.9L1068.1 285.6L1069.3 285.9L1069.6 290.3L1069.9 295.7L1070.2 301.5L1070.5 307.6L1070.8 313.9L1073.0 441.0L1075.2 298.9L1075.5 292.6L1075.8 286.5L1076.1 280.7L1076.4 275.3L1076.7 270.9L1077.9 270.6L1079.1 270.9L1079.4 275.3L1079.7 280.7L1080.0 286.5L1080.3 292.6L1080.6 298.9L1080.8 487.5L1080.8 530.0L1084.7 530.0L1084.7 487.5L1084.9 295.8L1085.2 289.5L1085.5 283.4L1085.8 277.6L1086.1 272.2L1086.4 267.8L1087.6 267.5L1088.8 267.8L1089.1 272.2L1089.4 277.6L1089.7 283.4L1090.0 289.5L1090.3 295.8L1092.2 409.0L1094.7 271.9L1095.0 265.6L1095.3 259.5L1095.6 253.7L1095.9 248.3L1096.2 243.9L1097.4 243.6L1098.6 243.9L1098.9 248.3L1099.2 253.7L1099.5 259.5L1099.8 265.6L1100.1 271.9L1102.0 388.0L1104.4 274.9L1104.7 268.6L1105.0 262.5L1105.3 256.7L1105.6 251.3L1105.9 246.9L1107.1 246.6L1108.3 246.9L1108.6 251.3L1108.9 256.7L1109.2 262.5L1109.5 268.6L1109.8 274.9L1110.0 487.5L1110.0 530.0L1113.6 530.0L1113.6 487.5L1114.1 258.9L1114.4 252.6L1114.7 246.5L1115.0 240.7L1115.3 235.3L1115.6 230.9L1116.8 230.6L1118.0 230.9L1118.3 235.3L1118.6 240.7L1118.9 246.5L1119.2 252.6L1119.5 258.9L1119.8 487.5L1119.8 530.0L1123.6 530.0L1123.6 487.5L1123.9 241.9L1124.2 235.6L1124.5 229.5L1124.8 223.7L1125.1 218.3L1125.4 213.9L1126.6 213.6L1127.8 213.9L1128.1 218.3L1128.4 223.7L1128.7 229.5L1129.0 235.6L1129.3 241.9L1129.5 487.5L1129.5 530.0L1133.4 530.0L1133.4 487.5L1133.6 220.7L1133.9 214.4L1134.2 208.3L1134.5 202.5L1134.8 197.1L1135.1 192.7L1136.3 192.4L1137.5 192.7L1137.8 197.1L1138.1 202.5L1138.4 208.3L1138.7 214.4L1139.0 220.7L1139.6 487.5L1139.6 530.0L1142.8 530.0L1142.8 487.5L1142.9 215.3L1143.2 209.0L1143.5 202.9L1143.8 197.1L1144.1 191.7L1144.4 187.3L1145.6 187.0L1146.0 187.6L1146.5 189.0L1146.9 193.1L1147.3 200.0L1147.7 208.0L1148.1 217.7L1148.5 229.3L1148.9 242.5L1149.3 257.4L1149.5 241.8L1149.6 227.0L1149.8 213.0L1149.9 200.0L1150.1 185.5L1150.2 171.7L1150.4 159.2L1150.6 149.0L1151.0 129.6L1151.5 114.7L1152.0 102.6L1152.4 91.7L1152.8 79.5L1153.3 68.8L1153.8 60.0L1154.4 52.7L1154.9 45.9L1155.4 39.4L1155.8 32.9L1156.3 27.1L1156.8 22.9L1157.2 20.2L1157.6 17.5L1158.0 15.0L1158.4 12.7L1158.8 10.7L1159.3 8.8L1159.7 7.4L1160.1 6.2L1160.5 5.5L1160.9 5.3L1161.3 5.5L1161.7 6.1L1162.1 7.1L1162.5 8.4L1162.9 9.9L1163.3 11.7L1163.7 13.7L1164.1 15.9L1164.5 18.2L1164.9 20.5L1165.3 22.9L1165.8 26.1L1166.2 30.1L1166.7 34.8L1167.1 40.1L1167.6 45.9L1168.0 52.6L1168.5 60.6L1168.9 68.8L1169.3 76.2L1169.7 83.8L1170.1 91.7L1170.7 102.4L1171.2 114.7L1171.7 128.6L1172.2 149.0L1172.3 156.1L1172.4 165.3L1172.5 176.4L1172.6 188.9L1172.8 202.5L1172.9 216.6L1173.0 231.1L1173.1 245.3L1173.2 259.0L1173.3 271.5L1173.4 284.9L1173.5 299.0L1173.6 313.3L1173.7 327.7L1173.8 341.8L1173.9 355.4L1174.0 368.2L1174.1 379.8L1174.2 390.0L1174.4 407.1L1174.6 421.0L1175.0 405.1L1175.3 390.0L1175.7 375.9L1176.0 362.4L1176.3 349.4L1176.7 336.7L1177.0 324.2L1177.4 311.7L1177.8 299.1L1178.1 286.2L1178.5 272.9L1178.8 259.0L1179.1 246.6L1179.4 232.4L1179.6 217.2L1179.9 201.8L1180.2 187.0L1180.5 173.5L1180.7 162.2L1181.0 153.8L1181.3 149.0L1181.7 145.3L1182.1 141.9L1182.5 138.9L1182.9 136.4L1183.4 134.2L1183.8 132.5L1184.2 131.3L1184.6 130.6L1185.0 130.3L1185.4 130.9L1185.9 132.4L1186.3 134.5L1186.7 137.1L1187.2 139.6L1187.6 142.0L1188.0 143.9L1188.5 146.0L1188.9 149.0L1189.5 157.0L1190.0 170.0L1190.3 178.4L1190.5 189.5L1190.8 202.5L1191.0 216.8L1191.3 231.4L1191.5 245.7L1191.8 259.0L1192.1 272.9L1192.3 288.6L1192.6 304.7L1192.8 319.8L1193.1 332.5L1193.3 341.4L1193.6 345.0L1194.0 345.6L1194.4 345.9L1194.8 346.1L1195.2 346.4L1195.6 347.0L1196.1 353.1L1196.5 368.1L1197.0 390.0L1197.1 398.6L1197.2 411.1L1197.4 426.4L1197.5 443.2L1197.6 460.6L1197.7 444.9L1197.9 429.4L1198.0 414.8L1198.2 401.4L1198.3 390.0L1198.5 372.3L1198.8 355.9L1199.0 340.6L1199.3 326.3L1199.5 313.1L1199.8 300.8L1200.0 289.3L1200.3 278.5L1200.5 268.5L1200.8 259.0L1201.2 243.2L1201.7 228.4L1202.1 216.5L1202.5 209.5L1202.9 205.7L1203.4 202.3L1203.8 199.5L1204.2 197.1L1204.6 195.4L1205.1 194.4L1205.5 194.0L1205.9 194.4L1206.4 195.7L1206.8 197.6L1207.2 200.1L1207.6 203.0L1208.1 206.2L1208.5 209.5L1208.9 213.4L1209.4 218.3L1209.8 224.3L1210.2 231.3L1210.6 239.4L1211.1 248.6L1211.5 259.0L1211.8 266.4L1212.0 275.8L1212.2 286.9L1212.5 299.4L1212.8 313.0L1213.0 327.6L1213.2 342.9L1213.5 358.5L1213.8 374.3L1214.0 390.0L1214.2 400.8L1214.3 412.2L1214.5 424.2L1214.7 436.7L1214.8 449.4L1215.0 462.4L1215.2 448.9L1215.4 435.5L1215.7 422.6L1215.9 410.4L1216.1 399.4L1216.3 390.0L1216.7 373.6L1217.2 358.2L1217.6 343.8L1218.0 330.3L1218.4 317.7L1218.9 305.9L1219.3 295.1L1219.7 285.1L1220.1 275.9L1220.6 267.6L1221.0 260.0L1221.4 252.6L1221.8 245.5L1222.3 240.1L1222.7 237.8L1223.2 237.5L1223.8 237.4L1224.4 237.5L1225.0 237.8L1225.4 238.5L1225.9 240.2L1226.3 242.6L1226.7 245.9L1227.1 250.0L1227.6 254.7L1228.0 260.0L1228.3 264.2L1228.5 270.1L1228.8 277.7L1229.0 287.3L1229.3 298.8L1229.6 312.4L1229.8 328.2L1230.1 346.4L1230.3 366.9L1230.6 390.0L1230.7 398.2L1230.7 409.8L1230.8 423.7L1230.9 439.0L1230.9 454.8L1231.0 470.0L1231.1 453.5L1231.3 437.3L1231.4 422.3L1231.5 408.9L1231.7 398.0L1231.8 390.0L1232.3 368.8L1232.9 354.2L1233.4 345.0L1233.9 338.9L1234.4 336.0L1234.8 337.9L1235.2 342.9L1235.6 350.0L1235.9 358.8L1236.1 372.9L1236.4 390.0L1236.5 400.3L1236.7 412.7L1236.8 426.4L1237.1 413.9L1237.5 401.7L1237.8 390.0L1238.2 375.2L1238.6 359.5L1239.1 343.5L1239.5 327.5L1239.9 312.2L1240.3 298.0L1240.7 285.4L1241.2 274.8L1241.6 266.9L1242.0 262.0L1242.5 258.7L1242.9 255.7L1243.4 253.4L1243.8 251.9L1244.3 251.3L1244.7 251.7L1245.1 252.8L1245.5 254.5L1246.0 256.6L1246.4 259.2L1246.8 262.0L1247.2 265.0L1247.6 268.6L1248.0 273.3L1248.4 279.1L1248.9 286.0L1249.3 293.7L1249.7 302.4L1250.1 312.0L1250.5 322.3L1250.9 333.5L1251.4 345.3L1251.8 357.8L1252.2 370.9L1252.6 384.5L1253.0 372.6L1253.5 361.0L1253.9 349.7L1254.3 338.9L1254.7 328.6L1255.2 318.8L1255.6 309.5L1256.0 300.8L1256.4 292.8L1256.9 285.4L1257.3 278.7L1257.7 272.8L1258.1 267.7L1258.6 263.4L1259.0 260.0L1259.4 257.0L1259.9 254.1L1260.3 251.3L1260.8 248.8L1261.2 246.5L1261.6 244.5L1262.1 242.9L1262.5 241.6L1263.0 240.9L1263.4 240.6L1263.7 241.2L1264.1 242.2L1264.4 243.5L1264.8 245.0L1265.1 246.8L1265.5 248.7L1265.8 250.9L1266.2 253.1L1266.5 255.6L1266.8 258.1L1267.2 260.8L1267.5 263.6L1267.9 266.6L1268.2 269.6L1268.6 272.8L1268.9 276.1L1269.2 279.4L1269.6 282.9L1269.9 286.5L1270.3 290.2L1270.6 293.9L1271.0 297.4L1271.3 300.0L1271.7 301.5L1272.0 302.0L1272.0 302.0L1272.3 301.6L1272.7 300.3L1273.0 298.2L1273.4 295.3L1273.7 292.2L1274.1 289.1L1274.4 286.1L1274.7 283.2L1275.1 280.3L1275.4 277.5L1275.8 274.8L1276.1 272.2L1276.5 269.7L1276.8 267.2L1277.1 264.8L1277.5 262.5L1277.8 260.3L1278.2 258.2L1278.5 256.2L1278.9 254.4L1279.2 252.6L1279.5 250.9L1279.9 249.4L1280.2 248.0L1280.6 246.8L1280.9 245.8L1281.3 245.0L1281.6 244.6L1281.9 245.1L1282.3 245.9L1282.6 247.0L1282.9 248.4L1283.3 249.9L1283.6 251.5L1284.0 253.3L1284.3 255.2L1284.6 257.3L1285.0 259.5L1285.3 261.7L1285.6 264.1L1286.0 266.6L1286.3 269.2L1286.6 271.9L1287.0 274.7L1287.3 277.5L1287.6 280.5L1288.0 283.5L1288.3 286.6L1288.7 289.8L1289.0 293.1L1289.3 296.4L1289.7 299.8L1290.0 303.0L1290.3 305.2L1290.7 306.5L1291.0 307.0L1291.0 307.0L1291.3 306.5L1291.7 304.9L1292.0 302.2L1292.4 298.6L1292.7 294.7L1293.1 290.8L1293.4 287.1L1293.8 283.5L1294.1 280.0L1294.4 276.5L1294.8 273.2L1295.1 270.1L1295.5 267.0L1295.8 264.1L1296.2 261.3L1296.5 258.6L1296.8 256.1L1297.2 253.7L1297.5 251.5L1297.9 249.5L1298.2 247.6L1298.6 246.0L1298.9 244.6L1299.3 243.6L1299.6 243.0L1300.0 243.3L1300.5 244.2L1300.9 245.7L1301.3 247.6L1301.7 250.1L1302.2 253.0L1302.6 256.3L1303.0 260.0L1303.3 264.4L1303.6 271.7L1303.9 281.7L1304.2 293.8L1304.5 307.7L1304.8 323.0L1305.1 339.3L1305.4 356.2L1305.7 373.2L1306.0 390.0L1306.2 401.8L1306.4 414.9L1306.6 429.0L1306.8 443.6L1307.0 458.6L1307.3 446.8L1307.6 434.0L1308.0 420.1L1308.3 405.4L1308.6 390.0L1308.8 377.5L1309.0 363.0L1309.3 348.5L1309.5 336.1L1309.7 328.0L1310.2 317.2L1310.7 308.4L1311.1 302.5L1311.6 300.4L1312.8 300.7L1313.1 305.1L1313.4 310.5L1313.7 316.3L1314.0 322.4L1314.3 328.7L1314.6 487.5L1314.6 530.0L1318.4 530.0L1318.4 487.5L1318.7 339.3L1319.0 333.0L1319.2 326.9L1319.6 321.1L1319.8 315.7L1320.2 311.3L1321.3 311.0L1322.6 311.3L1322.8 315.7L1323.2 321.1L1323.5 326.9L1323.8 333.0L1324.1 339.3L1324.3 487.5L1324.3 530.0L1328.1 530.0L1328.1 487.5L1328.4 346.9L1328.7 340.6L1329.0 334.5L1329.3 328.7L1329.6 323.3L1329.9 318.9L1331.1 318.6L1332.3 318.9L1332.6 323.3L1332.9 328.7L1333.2 334.5L1333.5 340.6L1333.8 346.9L1334.0 487.5L1334.0 530.0L1337.9 530.0L1337.9 487.5L1338.1 352.3L1338.4 346.0L1338.7 339.9L1339.0 334.1L1339.3 328.7L1339.6 324.3L1340.8 324.0L1342.0 324.3L1342.3 328.7L1342.6 334.1L1342.9 339.9L1343.2 346.0L1343.5 352.3L1343.8 487.5L1343.8 530.0L1347.6 530.0L1347.6 487.5L1347.9 357.3L1348.2 351.0L1348.5 344.9L1348.8 339.1L1349.1 333.7L1349.4 329.3L1350.6 329.0L1351.8 329.3L1352.1 333.7L1352.4 339.1L1352.7 344.9L1353.0 351.0L1353.3 357.3L1353.5 487.5L1353.5 530.0L1357.4 530.0L1357.4 487.5L1357.6 361.7L1357.9 355.4L1358.2 349.3L1358.5 343.5L1358.8 338.1L1359.1 333.7L1360.3 333.4L1361.5 333.7L1361.8 338.1L1362.1 343.5L1362.4 349.3L1362.7 355.4L1363.0 361.7L1363.3 487.5L1363.3 530.0L1367.1 530.0L1367.1 487.5L1367.3 365.3L1367.6 359.0L1367.9 352.9L1368.2 347.1L1368.5 341.7L1368.8 337.3L1370.0 337.0L1371.2 337.3L1371.5 341.7L1371.8 347.1L1372.1 352.9L1372.4 359.0L1372.7 365.3L1373.0 487.5L1373.0 530.0L1376.8 530.0L1376.8 487.5L1377.1 368.9L1377.4 362.6L1377.7 356.5L1378.0 350.7L1378.3 345.3L1378.6 340.9L1379.8 340.6L1381.0 340.9L1381.3 345.3L1381.6 350.7L1381.9 356.5L1382.2 362.6L1382.5 368.9L1382.7 487.5L1382.7 530.0L1386.6 530.0L1386.6 487.5L1386.8 372.7L1387.1 366.4L1387.4 360.3L1387.7 354.5L1388.0 349.1L1388.3 344.7L1389.5 344.4L1390.7 344.7L1391.0 349.1L1391.3 354.5L1391.6 360.3L1391.9 366.4L1392.2 372.7L1392.5 487.5L1392.5 530.0L1396.3 530.0L1396.3 487.5L1396.6 375.9L1396.9 369.6L1397.2 363.5L1397.5 357.7L1397.8 352.3L1398.1 347.9L1399.3 347.6L1400.5 347.9L1400.8 352.3L1401.1 357.7L1401.4 363.5L1401.7 369.6L1402.0 375.9L1402.2 487.5L1402.2 530.0L1406.1 530.0L1406.1 487.5L1406.3 378.7L1406.6 372.4L1406.9 366.3L1407.2 360.5L1407.5 355.1L1407.8 350.7L1409.0 350.4L1410.2 350.7L1410.5 355.1L1410.8 360.5L1411.1 366.3L1411.4 372.4L1411.7 378.7L1412.0 487.5L1412.0 530.0L1415.8 530.0L1415.8 487.5L1416.0 381.3L1416.3 375.0L1416.6 368.9L1416.9 363.1L1417.2 357.7L1417.5 353.3L1418.7 353.0L1419.9 353.3L1420.2 357.7L1420.5 363.1L1420.8 368.9L1421.1 375.0L1421.4 381.3L1421.7 487.5L1421.7 530.0L1425.5 530.0L1425.5 487.5L1425.8 383.9L1426.1 377.6L1426.4 371.5L1426.7 365.7L1427.0 360.3L1427.3 355.9L1428.5 355.6L1429.7 355.9L1430.0 360.3L1430.3 365.7L1430.6 371.5L1430.9 377.6L1431.2 383.9L1431.4 487.5L1431.4 530.0L1435.3 530.0L1435.3 487.5L1435.5 386.7L1435.8 380.4L1436.1 374.3L1436.4 368.5L1436.7 363.1L1437.0 358.7L1438.2 358.4L1439.4 358.7L1439.7 363.1L1440.0 368.5L1440.3 374.3L1440.6 380.4L1440.9 386.7L1441.2 487.5L1441.2 530.0L1445.0 530.0L1445.0 487.5L1445.3 389.3L1445.6 383.0L1445.9 376.9L1446.2 371.1L1446.5 365.7L1446.8 361.3L1448.0 361.0L1449.2 361.3L1449.5 365.7L1449.8 371.1L1450.1 376.9L1450.4 383.0L1450.7 389.3L1450.9 487.5L1450.9 530.0L1454.7 530.0L1454.7 487.5L1455.0 391.7L1455.3 385.4L1455.6 379.3L1455.9 373.5L1456.2 368.1L1456.5 363.7L1457.7 363.4L1458.9 363.7L1459.2 368.1L1459.5 373.5L1459.8 379.3L1460.1 385.4L1460.4 391.7L1460.6 487.5L1460.6 530.0L1464.5 530.0L1464.5 487.5L1464.7 393.9L1465.0 387.6L1465.3 381.5L1465.6 375.7L1465.9 370.3L1466.2 365.9L1467.4 365.6L1468.6 365.9L1468.9 370.3L1469.2 375.7L1469.5 381.5L1469.8 387.6L1470.1 393.9L1470.4 487.5L1470.4 530.0L1474.2 530.0L1474.2 487.5L1474.5 395.9L1474.8 389.6L1475.1 383.5L1475.4 377.7L1475.7 372.3L1476.0 367.9L1477.2 367.6L1478.4 367.9L1478.7 372.3L1479.0 377.7L1479.3 383.5L1479.6 389.6L1479.9 395.9L1480.1 487.5L1480.1 530.0"/>
</g>
<text class="t" transform="translate(833.6 512.9) scale(0.967 1)" text-anchor="middle">1600</text>
<text class="t" transform="translate(898.5 512.9) scale(0.967 1)" text-anchor="middle">1620</text>
<text class="t" transform="translate(963.4 512.9) scale(0.967 1)" text-anchor="middle">1640</text>
<text class="t" transform="translate(1028.3 512.9) scale(0.967 1)" text-anchor="middle">1660</text>
<text class="t" transform="translate(1093.2 512.9) scale(0.967 1)" text-anchor="middle">1680</text>
<text class="t" transform="translate(1158.1 512.9) scale(0.967 1)" text-anchor="middle">1700</text>
<text class="t" transform="translate(1223.0 512.9) scale(0.967 1)" text-anchor="middle">1720</text>
<text class="t" transform="translate(1287.9 512.9) scale(0.967 1)" text-anchor="middle">1740</text>
<text class="t" transform="translate(1352.8 512.9) scale(0.967 1)" text-anchor="middle">1760</text>
<text class="t" transform="translate(1417.7 512.9) scale(0.967 1)" text-anchor="middle">1780</text>
<text class="t" transform="translate(1482.6 512.9) scale(0.967 1)" text-anchor="middle">1800</text>
<text class="t" transform="translate(826.0 11.9) scale(0.997 1)" text-anchor="end">0</text>
<text class="t" transform="translate(826.0 92.2) scale(0.997 1)" text-anchor="end">-5</text>
<text class="t" transform="translate(826.0 172.6) scale(0.997 1)" text-anchor="end">-10</text>
<text class="t" transform="translate(826.0 252.9) scale(0.997 1)" text-anchor="end">-15</text>
<text class="t" transform="translate(826.0 333.2) scale(0.997 1)" text-anchor="end">-20</text>
<text class="t" transform="translate(826.0 413.6) scale(0.997 1)" text-anchor="end">-25</text>
<text class="t" transform="translate(826.0 493.9) scale(0.997 1)" text-anchor="end">-30</text>
<text class="l" transform="translate(1158.4 538.4) scale(0.92 1)" text-anchor="middle">Range/m</text>
<text class="l" transform="translate(790.5 247.6) rotate(-90) scale(0.926 1)" text-anchor="middle">Normalized Amplitude/dB</text>
<rect x="1198.5" y="5.5" width="285.0" height="47" fill="#fff" stroke="#262626" stroke-width="1" shape-rendering="crispEdges"/>
<path d="M1204.0 18.5h52" stroke="#ff0000" stroke-width="1" fill="none"/>
<path d="M1204.0 39.5h52" stroke="#0000ff" stroke-width="1" fill="none"/>
<text class="lg" transform="translate(1259.8 24.6) scale(1.088 1)">Only decimation</text>
<text class="lg" transform="translate(1259.8 45.8) scale(1.088 1)">Decimation Keystone algorithm</text>
<text class="pl" transform="translate(757.7 35) scale(0.95 1)">B</text>
<text class="cap" transform="translate(1184.8 600.9) scale(0.9987 1)" text-anchor="middle">Comparison of only decimation and</text>
<text class="cap" transform="translate(1156.8 645.6) scale(0.9987 1)" text-anchor="middle">decimation keystone algorithm</text>
</g>
</svg>
</body>
</html>
